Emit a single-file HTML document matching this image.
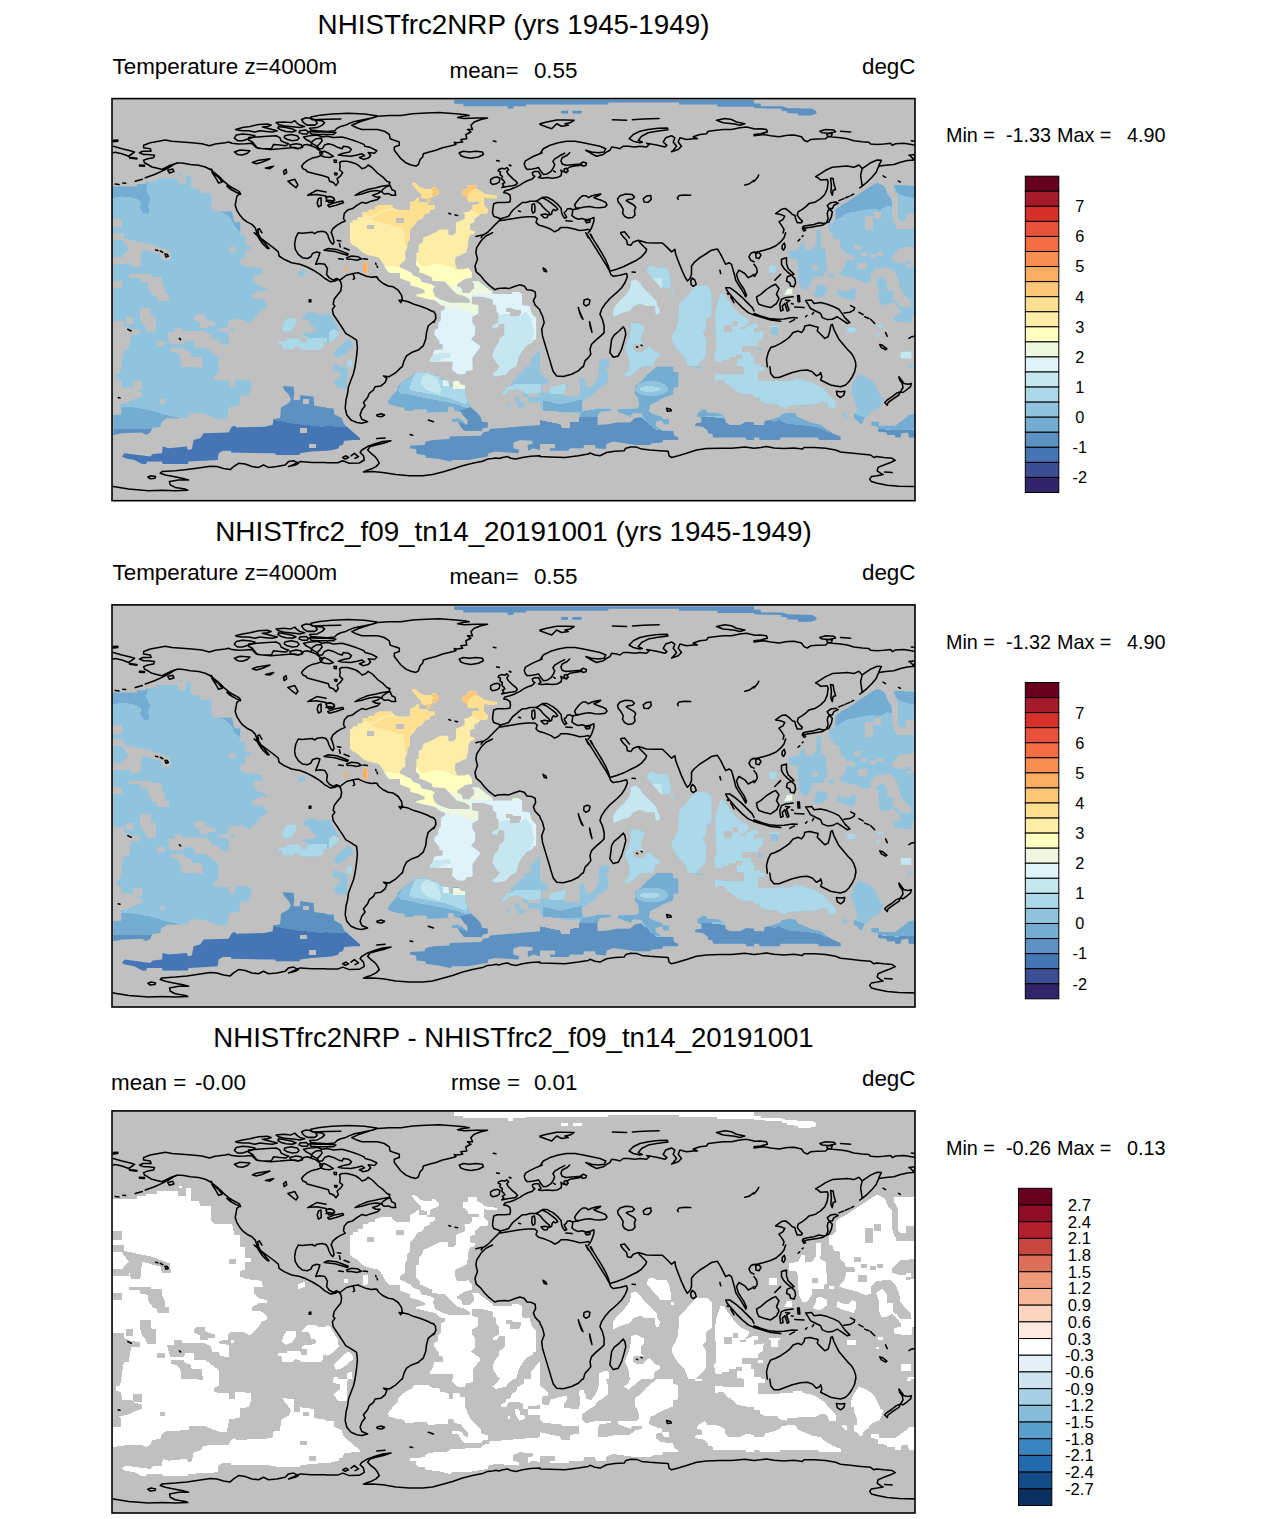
<!DOCTYPE html>
<html><head><meta charset="utf-8"><title>NHISTfrc2NRP Temperature z=4000m</title>
<style>html,body{margin:0;padding:0;background:#fff}svg{display:block}text{font-family:"Liberation Sans",sans-serif;fill:#000}</style></head><body>
<svg width="1285" height="1519" viewBox="0 0 1285 1519">
<rect width="1285" height="1519" fill="#fff"/>
<defs><clipPath id="frame"><rect x="112" y="98.6" width="803" height="402.1"/></clipPath><clipPath id="mask" clip-rule="nonzero"><path d="M112,186.5 137,186.5 137,184 146.1,184 146.1,181.5 157,181.5 157,178.6 177.8,178.6 177.8,183.6 186.1,183.6 186.1,175.6 191.1,175.6 191.1,188.6 198.6,188.6 200.3,193.3 211.4,193.3 211.4,208.6 213.9,211.4 231.9,211.4 234.4,222.3 240.2,222.3 240.2,232.8 112,232.8ZM179.4,173.6 181.9,173.6 181.9,176.1 179.4,176.1ZM454.2,100 540,100 540,104.5 525.8,104.5 525.8,106.2 513.3,106.2 513.3,108.4 507.5,108.4 507.5,106.2 463.4,106.2 463.4,103.7 454.2,103.7ZM540,100 754,100 754,106.7 717.4,106.7 717.4,104.5 679.1,104.5 679.1,102.4 608.3,102.4 608.3,104.5 540,104.5ZM561.3,110.7 568,110.7 568,113.4 561.3,113.4ZM572.5,110.7 581.6,110.7 581.6,113.4 572.5,113.4ZM754,103.4 760.7,103.4 760.7,106.2 782.3,106.2 787.3,107.9 812.3,108.7 816.4,111.2 816.4,113.7 810.6,115.4 798.1,115.4 798.1,113.4 787.3,112.9 787.3,111.2 781.5,110.4 781.5,108.7 754,107.9ZM350,222.5 352.5,222.5 352.5,220 357.5,220 357.5,216.9 362.5,216.9 362.5,211.9 367.4,211.9 369.9,209.4 374.9,209.4 374.9,206.9 379.9,205.1 392.3,205.1 392.3,206.9 394.8,208.8 399.8,210.1 409.8,210.1 409.8,202.6 414.8,200.7 416.6,198.2 419.1,198.2 419.1,202.6 427.2,202.6 427.2,205.1 434.7,205.1 434.7,208.8 429.7,210.1 429.7,212.6 424.7,214.4 422.2,218.8 417.2,220.6 414.8,225 409.8,230 409.8,239.9 407.3,242.4 407.3,247.4 404.8,252.4 404.8,259.9 399.8,264.9 399.8,267.3 404.8,269.2 408.5,272.7 389.9,272.7 387.4,271.1 384.9,267.3 382.4,262.4 378.6,257.4 367.4,254.9 362.5,252.4 357.5,247.4 352.5,244.9 350,242.4ZM363.1,262.4 367.4,262.4 367.4,272.7 363.1,272.7ZM412.3,182.7 414.8,182.7 419.7,187 424.7,188.9 432.2,188.9 432.2,187 435.3,187 439,191.4 439,193.2 435.9,195.7 432.2,196.4 429.7,198.9 429.7,202.6 427.2,202.6 427.2,198.9 421,197.6 421,193.9 417.9,191.4 414.8,187.6 412.3,184.5ZM462.7,189.5 467.7,189.5 467.7,185.2 477,185.2 477,188.9 482,191.4 484.5,193.9 496.9,195.7 496.9,198.2 487,198.2 484.5,196.4 483.9,200.7 483.9,205.1 487.6,208.8 487.6,213.2 480.8,213.8 478.3,216.3 474.5,218.8 474.5,222.5 470.2,223.8 470.2,230 474.5,231.2 474.5,233.7 470.2,235 468.3,239.9 468.3,243.7 466.4,252.4 459.6,254.9 455.2,257.4 455.2,268.6 459.6,269.8 465.8,268.6 469.6,272.7 419.7,272.7 419.7,268.6 416,264.9 416,261.1 418.5,259.9 418.5,244.9 422.2,242.4 423.5,237.5 429.7,235 437.2,231.2 439.7,229.4 448.4,229.4 448.4,235 453.4,235 455.9,232.5 455.9,222.5 462.1,220 464.6,218.8 464.6,213.8 462.7,212.6 469.6,211.3 472,208.8 472,205.1 478.9,204.5 478.9,201.3 468.3,202 467.1,197.6 462.7,195.1ZM816.4,230.3 820.9,230.3 820.9,232.9 816.4,232.9ZM816.4,231.9 821.1,231.9 821.1,243.5 816.4,243.5ZM829.3,232.8 829.3,222.8 832.3,222.8 835.6,219.4 835.6,209.4 838.9,206.9 842.3,204.4 847.3,201.9 852.3,198.6 857.2,195.3 862.2,192 867.2,188.6 872.2,185.3 877.2,182.8 915,182.8 915,232.8ZM113.3,232.7 240.2,232.7 240.2,235.2 245.2,235.2 245.2,245.2 251.1,246 251.1,249.4 245.2,249.4 245.2,257.7 240.2,258.5 240.2,264.3 246.9,266.8 261.9,268.5 262.7,274.3 253.5,275.2 253.5,280.2 258.5,286 266.9,287.7 266.9,290.2 258.5,291 251.9,295.1 251.9,298.5 262.7,299.3 266.9,304.3 266.9,307.6 261.9,309.3 258.5,314.3 253.5,319.3 250.2,323.5 241.9,319.3 230.2,319.3 227.7,323.5 227.7,327.6 218.6,328.5 218.6,331 228.6,332.6 228.6,345.1 220.2,343.4 218.6,339.3 211.9,339.3 211.1,334.3 204.4,331 181.9,331 181.9,328 174.4,328 174.4,332.6 167,332.6 168.6,339.3 170.3,344.3 183.6,344.3 185.3,340.9 193.6,340.9 194.4,347.6 205.3,347.6 211.9,352.6 218.6,357.6 218.6,366.8 113.3,366.8ZM231.1,327.6 234.4,327.6 234.4,331 231.1,331ZM283.5,323.5 286.9,318.5 296,318.5 296,324.3 291.9,330.1 286,332.6 281.9,329.3ZM297.7,271.8 305.2,269.7 305.2,274.3 298.5,276.8ZM302.4,317.6 307.4,312.6 313.3,312.3 318.3,314.3 328.2,314.3 331.6,316.8 334.9,322.6 338.2,327.6 338.2,332.6 334.9,336.8 329.9,340.9 323.2,342.6 323.2,347.6 319.9,350.1 301.6,350.1 299.9,347.6 294.9,346.8 293.3,349.3 282.4,349.3 281.6,344.3 278.3,343.4 278.3,340.9 286.6,340.9 286.6,338.4 299.9,338.4 301.6,342.6 306.6,342.6 306.6,336.8 302.4,336.8 302.4,333.4 310.8,332.6 315.8,331 315.8,327.6 310.8,326 309.1,320.1 302.4,319.3ZM334.9,364.3 338.2,364.3 338.2,366.8 334.9,366.8ZM326,312.6 330.2,314.3 332.7,321 334.3,326 338.5,332.6 338.5,335.1 334.3,339.3 329.3,342.6 326,343.4ZM333.5,352.6 338.5,347.6 342.7,343.4 346.8,340.1 349.3,339.3 352.6,343.4 353.5,347.6 349.3,349.3 346.8,352.6 341.8,355.9 336,357.6ZM346.8,360.9 351.8,359.3 352.6,366.8 347.6,366.8ZM333.5,364.3 336,364.3 336,366.8 333.5,366.8ZM344.3,266.8 347.6,266.8 347.6,270.2 344.3,270.2ZM363,262.7 367.6,262.7 367.6,271.8 363,271.8ZM416.3,252.7 465.4,252.7 458.8,256 455,257.1 455,263.6 457.2,269 465.4,269 468.1,267.4 471.9,272.3 471.9,277.8 465.4,278.8 461,281.6 457.2,284.3 457.2,286.5 461,287.6 463.2,293 469.7,293 471.9,289.7 474.1,288.6 474.1,284.3 471.9,281 478.4,281 483.9,285.4 492.6,291.9 492.6,294.1 512.2,294.1 512.2,291.9 518.7,291.9 522,294.1 522,305 529.6,306.1 531.8,313.7 536.2,318.1 536.2,339.7 504.6,339.7 504.6,324.1 499.1,323.5 496.9,327.9 492.6,327.9 492.6,325.7 498.6,322.4 498.6,313.7 496.4,311.5 496.4,306.1 492.6,303.9 492.6,299.5 482.8,296.8 471.9,296.8 471.9,303.9 478.4,305 478.4,313.7 472.4,317 472.4,322.4 475.2,326.8 475.2,334.4 470.8,339.7 438.1,339.7 434.3,334.4 434.3,331.1 438.1,327.9 438.1,323.5 440.8,320.2 440.8,311.5 444.7,309.3 444.7,306.1 440.3,305 434.9,300.6 429.4,299.5 416.3,296.3 416.3,294.6 424.5,293 424.5,290.3 418.5,287.6 410.3,285.4 410.3,282.1 401.1,278.8 400,277.8 400,267.4 403.3,269 410.9,272.3 413.1,275.6 419.6,277.8 421.8,282.1 431.6,284.3 434.9,286.5 432.7,289.7 434.9,296.3 440.3,299.5 450.1,302.8 469.7,302.8 469.7,299.5 464.3,296.3 456.6,294.1 452.3,289.7 444.7,281.6 432.7,281 431.6,277.2 422.3,272.9 420.2,266.9 416.3,264.7ZM400,252.7 405.4,252.7 405.4,260.3 400,263.6ZM435.9,329.3 472.5,331 470.9,339.3 480,345.9 480,347.6 472.5,357.6 472.5,366.8 452.6,366.8 452.6,361.8 430.1,361.8 430.1,359.3 432.6,355.9 434.2,350.1 442.6,349.3 442.6,344.3 439.2,343.4 439.2,337.6 434.2,333.4ZM505,329.3 535.8,331 532.5,342.6 525.8,345.9 519.2,355.9 515.8,366.8 500.9,366.8 497.5,364.3 492.5,355.9 494.2,349.3 499.2,342.6 499.2,339.3 505,334.3ZM530.8,359.3 540,349.3 540,366.8 530.8,366.8ZM648.2,266.8 651.6,265.2 656.6,267.7 666.6,267.7 669.1,272.7 670.7,281 670.7,287.7 660.7,287.7 656.6,282.7 653.2,279.3 649.1,274.3 646.6,271.8ZM671.1,289.8 673.6,289.8 673.6,292.3 671.1,292.3ZM630.8,281 635.8,279.3 639.9,282.7 643.2,287.7 649.9,294.3 656.6,301 657.4,306 659.9,309.3 659.1,314.3 655.7,314.3 654.9,306 646.6,306 639.9,303.5 633.3,306 629.9,311 623.3,312.6 613.3,316.8 613.3,309.3 616.6,304.3 621.6,299.3 624.9,296 629.9,289.3 630.8,284.3ZM630.8,323.5 636.6,322.6 644.1,326 644.1,331 641.6,333.4 640.7,340.9 644.1,343.4 646.6,347.6 649.9,345.9 654.9,351.8 659.9,353.4 659.9,356.8 654.9,359.3 653.2,366.8 629.9,366.8 628.3,355.9 624.9,349.3 627.4,342.6 629.9,335.9 630.8,329.3ZM599.1,360.9 603.3,358.9 609.1,359.3 609.1,366.8 599.1,366.8ZM696.5,286 706.5,285.2 711.5,290.2 711.5,316 706.5,319.3 705.7,329.3 702.4,332.6 706.5,339.3 705.7,355.9 701.5,360.9 695.7,366.8 688.2,366.8 684.9,357.6 679.9,352.6 674.9,345.9 671.6,339.3 671.6,335.9 674.9,331 678.2,322.6 679.1,304.3 684.9,298.5 690.7,291ZM720.7,293.5 724,294.3 729.8,302.6 736.5,311 742.3,316 749,319.3 748.2,323.5 742.3,328.5 754,323.5 754,366.8 716.5,366.8 714,352.6 716.5,349.3 714.9,316 716.5,306ZM743.9,365.1 758.2,365.1 758.2,381.2 743.9,381.2ZM789,251 798.1,249.4 801.5,242.7 804.8,242.7 804.8,249.4 812.3,249.4 815.6,244.4 819.8,242.7 820.6,246.9 825.6,249.4 827.3,271 823.9,272.7 823.9,276.8 812.3,276.8 811.5,282.7 807.3,289.3 802.3,289.3 799,282.7 798.1,272.7 797.3,259.3 789,258.5ZM832.3,232.7 833.9,238.5 839.8,239.4 840.6,247.7 844.8,251 845.6,254.3 853.9,255.2 855.6,260.2 846.4,259.3 844.8,266.8 840.6,271.8 838.9,274.3 847.3,276.8 857.2,279.3 864.7,282.7 876.4,281 878.9,289.3 878.9,298.5 881.4,305.1 887.2,304.3 892.2,301.8 897.2,306 900.5,311 900.5,314.3 893.9,316 893.9,321 903.9,322.6 911.4,322.6 912.2,315.1 915,314.3 915,232.7ZM828.9,273.5 833.9,273.5 833.9,276.8 828.9,276.8ZM815.6,286 819.8,284.3 827.3,287.7 827.3,292.7 822.3,296.8 818.9,297.6 813.1,296 815.6,291ZM838.1,287.7 840.6,291 848.9,291.8 852.3,287.7 855.6,289.3 855.6,296 853.9,301 848.9,299.3 840.6,296.8 836.4,294.3ZM787.3,288.5 792.3,288.5 792.3,294.3 784,295.1ZM769,265.2 776.5,265.2 776.5,272.7 769,272.7ZM847.3,327.6 855.6,327.6 855.6,332.6 847.3,332.6ZM878.1,325.1 883.1,325.1 883.1,327.6 878.1,327.6ZM876.4,334.3 878.9,334.3 878.9,336.8 876.4,336.8ZM900.5,351.8 911.4,351.8 911.4,358.4 900.5,358.4ZM754,323.5 758.2,323.5 758.2,328.5 754,328.5ZM769,326 779.8,326 779,333.4 770.7,334.3ZM754,332.6 764,331 764,337.6 759,340.9 760.7,345.9 754,347.6ZM757.3,347.6 762.3,347.6 762.3,350.1 757.3,350.1ZM754,364.3 760.7,364.3 760.7,366.8 754,366.8ZM908,365.1 915,365.1 915,366.8 908,366.8ZM122,366.7 218.6,366.7 218.6,373.4 213.6,375.9 213.6,380 229.4,380.9 229.4,386.7 235.2,386.7 235.2,379.2 251.1,380.9 251.1,388.3 248.6,395 240.2,395.8 239.4,405.8 229.4,406.7 226.9,419.2 218.6,419.2 211.9,416.7 203.6,413.3 189.4,413.3 188.6,417.5 178.6,418.3 167,418.3 161.1,422.5 160.3,426.7 152.8,427.5 150.3,432.5 146.1,435 142,432.5 122,433.3 113.3,435 113.3,415 121.2,414.2 121.2,406.7 119.5,404.2 130.3,401.7 133.6,399.2 142,396.7 142,392.5 133.6,390 131.2,387.5 122,387.5 121.2,380 116.2,378.4 116.2,374.2 119.5,373.4ZM122,456.6 124.5,453.3 150.3,456.6 152.8,454.1 162,453.3 162.8,446.6 168.6,448.3 186.9,446.6 187.8,450 191.9,449.1 193.6,440 200.3,438.3 203.6,433.3 228.6,432.5 231.9,426.7 235.2,425.8 236.1,427.5 264.4,426.7 272.7,425 273.5,419.2 280.2,418.3 281,407.5 288.5,403.3 291,399.2 288.5,394.2 284.4,390 282.7,385.9 293.5,386.7 294.3,392.5 293.5,400 300.2,400 300.2,395 313.5,396.7 314.3,405.8 326,407.5 326,450.8 311,451.6 300.2,453.3 299.3,455 276,455 275.2,453.3 231.1,452.5 231.1,450.8 222.7,450.8 218.6,453.3 217.7,460 188.6,461.6 187.8,464.1 162.8,464.1 162,461.6 147,461.6 146.1,464.1 142,464.1 134.5,460 125.3,458.3ZM326,408.3 333.5,408.3 334.3,414.2 341.8,418.3 343.5,423.3 348.5,428.3 353.5,432.5 360.1,438.3 360.1,440 353.5,440 344.3,440.8 342.7,445 339.3,445.8 338.5,448.3 332.7,450 326,450.8ZM332.7,366.7 347.6,366.7 346.8,388.3 337.7,388.3 333.5,381.7 340.2,376.7 340.2,371.7 332.7,370.9ZM414.3,372.5 429.2,372.5 430.1,375 439.2,375.9 440.1,379.2 448.4,380.9 449.2,386.7 452.6,386.7 453.4,380.9 459.2,380.9 460.1,384.2 465.1,385 465.1,394.2 467.5,400.8 470.9,407.5 476.7,412.5 480.9,417.5 481.7,421.7 487.5,422.5 487.5,427.5 482.5,428.3 481.7,430.8 464.2,430.8 460.9,426.7 457.6,421.7 451.7,421.7 451.7,419.2 457.6,418.3 461.7,420 464.2,423.3 467.5,425 467.5,420 463.4,415.8 460.9,411.7 454.2,410.8 453.4,406.7 448.4,406.7 447.6,411.7 427.6,412.5 426.7,409.2 414.3,409.2 413.4,410.8 405.1,410.8 404.3,407.5 397.6,406.7 389.3,404.2 387.6,401.7 392.6,395 397.6,390 397.6,386.7 402.6,381.7 407.6,378.4 412.6,375.9ZM410.1,445.8 424.3,445 425.9,441.6 434.2,440 449.2,439.1 450.1,436.6 480.9,435.8 483.4,432.5 488.4,431.6 490,429.1 540,425 540,450 533.3,448.3 528.3,450.8 527.5,445 532.5,444.1 532.5,440.8 520,440 513.3,442.5 513.3,448.3 519.2,450 518.3,453.3 508.3,452.5 495,451.6 488.4,453.3 487.5,456.6 481.7,457.5 467.5,460 452.6,460 450.1,461.6 439.2,459.1 425.9,457.5 425.1,455 416.8,454.1 415.9,449.1 410.1,448.3ZM492.5,374.2 497.5,370 499.2,366.7 514.2,366.7 509.2,370 505.9,374.2 495.9,376.7ZM524.2,366.7 540,366.7 540,392.5 536.7,393.3 528.3,394.2 527.5,396.7 523.3,396.7 523.3,391.7 518.3,389.2 509.2,390 505.9,394.2 500.9,394.2 500.9,392.5 505.9,390 505.9,386.7 510.8,385.9 511.7,381.7 515.8,379.2 517.5,375 524.2,370.9ZM528.3,396.7 540,396.7 540,402.5 528.3,402.5ZM515,396.7 519.2,396.7 520,402.5 525,403.3 525,406.7 519.2,408.3 515,400.8ZM507.5,403.3 510,403.3 510,406.7 507.5,406.7ZM451.7,366.7 472.5,366.7 472.5,370 465.9,370.9 465.1,374.2 457.6,374.2 452.6,370ZM540,373.4 548.3,380 548.3,383.4 542.5,384.2 541.7,391.7 549.2,393.3 550,387.5 565,383.4 567.5,384.2 566.6,387.5 564.1,391.7 564.1,395.8 579.1,396.7 580,390.8 579.1,378.4 583.3,377.5 585.8,383.4 585.8,386.7 591.6,387.5 595,382.5 598.3,376.7 599.1,366.7 605.8,366.7 608.3,373.4 608.3,381.7 603.3,385.9 597.5,389.2 595,393.3 588.3,397.5 582.5,401.7 581.6,406.7 585.8,410.8 599.1,408.3 610.8,408.3 610.8,410.8 600,411.7 597.5,416.7 597.5,425 608.3,424.2 616.6,422.5 629.9,422.5 634.9,418.3 641.6,416.7 641.6,413.3 632.4,413.3 630.8,416.7 626.6,415 617.4,411.7 618.3,409.2 636.6,408.3 639.1,405.8 638.3,398.3 634.9,394.2 634.9,385.9 639.9,382.5 646.6,375 654.9,368.4 656.6,366.7 673.2,366.7 673.2,371.7 678.2,372.5 678.2,386.7 673.2,388.3 673.2,394.2 664.1,397.5 656.6,401.7 649.9,405 649.1,411.7 656.6,415 662.4,416.7 662.4,419.2 669.1,419.2 669.1,424.2 664.1,424.2 661.6,420 655.7,421.7 655.7,425.8 661.6,430 673.2,430.8 674.1,435.8 678.2,437.5 678.2,440 663.2,440 662.4,442.5 651.6,443.3 649.9,445 636.6,445 613.3,441.6 606.6,444.1 605.8,449.1 595.8,448.3 595,445 584.1,445 583.3,448.3 570,448.3 568.3,450.8 550,450.8 550,448.3 555,448.3 555,444.1 540,444.1ZM624.1,374.2 628.3,370.9 629.9,366.7 641.6,366.7 637.4,370 632.4,374.2 628.3,377.5ZM697.4,413.3 704.9,408.3 707.4,412.5 718.2,413.3 724.8,416.7 725.7,422.5 729.8,425 739.8,425 746.5,421.7 754,422.5 754,440 746.5,440 745.7,437.5 713.2,437.5 712.4,434.1 708.2,433.3 707.4,430 702.4,426.7 694.9,425.8 695.7,423.3 701.5,422.5 701.5,417.5 697.4,416.7ZM714.9,373.4 724.8,374.4 743.8,374.4 743.8,365.9 754,365.9 754,395 746.5,394.2 737.3,392.5 733.2,388.3 727.3,385 723.2,380.9 714.9,380.9ZM694.9,366.7 702.4,366.7 702.4,368.4 694.9,368.4ZM754,380.9 792.3,380.9 794,378.4 802.3,379.2 804,380.9 812.3,382.5 818.9,385.9 823.9,389.2 827.3,393.3 832.3,398.3 835.6,402.5 835.6,408.3 828.9,408.3 827.3,402.5 821.4,401.7 815.6,404.2 787.3,405.8 786.5,408.3 779,406.7 778.1,404.2 764,403.3 759.8,400.8 759.8,397.5 754,397.5ZM754,366.7 764.8,366.7 764.8,370.9 758.2,371.7 758.2,380.9 754,380.9ZM754,425 764,425 764.8,420.8 770.7,420 779.8,416.7 781.5,414.2 789,412.5 795.6,413.3 797.3,416.7 804,420 812.3,423.3 820.6,425 825.6,429.1 832.3,433.3 840.6,436.6 840.6,440 818.9,440 818.1,437.5 780.6,437.5 779.8,440 759.8,440 759,437.5 754,437.5ZM853.9,381.7 858.9,374.2 867.2,377.5 873.9,382.5 878.1,390.8 880.6,396.7 883.1,397.5 882.2,402.5 878.9,408.3 872.2,410.8 868.1,415.8 863.1,420 862.2,424.2 858.9,423.3 858.1,420.8 853.9,418.3 853.9,413.3 857.2,412.5 856.4,405 853.9,399.2 853.9,395 851.4,394.2 851.4,387.5ZM842.3,412.5 844.8,412.5 847.3,415 847.3,417.5 844.8,417.5 842.3,415ZM871.4,421.7 878.9,421.7 878.9,425.8 895.5,425.8 900.5,421.7 905.5,418.3 908.9,415 915,414.2 915,437.5 908.9,437.5 908,432.5 901.4,433.3 900.5,437.5 895.5,437.5 894.7,435 887.2,435 886.4,432.5 878.1,431.6 878.1,426.7 871.4,425.8ZM907.2,366.7 910.5,366.7 910.5,368.4 907.2,368.4Z"/></clipPath><path id="coast" d="M145.3,177.8 154.5,174.5 162.0,171.1 168.6,167.8 173.6,164.5 177.8,162.8 170.3,165.3 162.0,169.5 158.6,168.6 152.0,167.0 147.8,164.5 144.5,162.8 143.6,160.3 147.8,158.7 153.6,157.8 154.5,155.3 147.8,154.5 143.6,154.5 139.5,152.8 142.8,151.2 151.1,151.2 150.3,148.7 143.6,147.8 143.6,145.3 150.3,142.8 158.6,141.2 165.3,140.0 172.0,141.2 181.9,142.0 191.9,142.8 201.9,143.7 209.4,145.7 215.2,144.0 225.2,142.8 228.6,142.0 231.9,143.3 238.6,144.0 245.2,143.7M177.8,162.8 183.6,163.3 190.3,164.5 198.6,165.3 205.3,167.0 210.3,169.5 213.6,172.0 218.6,176.1 223.6,181.1 228.6,185.3 233.6,188.6 238.6,191.1 240.2,193.6 236.9,196.1 236.1,200.3 235.2,205.3 236.9,210.3 239.4,214.4 242.7,218.6 246.9,221.9 251.9,224.4 255.2,227.8 256.9,232.8M261.9,232.8 259.4,228.6 257.7,229.4 258.5,232.8M115.3,184.1 119.0,184.6M122.8,183.0 125.7,183.3M135.3,181.3 142.3,179.3M113.3,140.3 117.8,140.0 117.8,141.3 113.3,141.7ZM113.3,146.2 122.0,148.7 130.3,150.7 134.5,152.0 128.7,156.2 122.0,153.7 115.3,152.3 113.3,152.8M129.5,157.3 137.0,158.3 136.6,159.0 129.5,158.0ZM139.5,165.0 144.5,165.3 144.5,166.3 139.5,166.0ZM167.8,170.3 172.8,169.0 173.9,171.6 169.5,173.0ZM211.1,169.0 214.4,174.0 218.6,177.3 222.2,182.0 218.6,183.0 216.1,178.6 211.9,172.0M226.9,186.1 233.6,188.3 239.4,191.6 240.6,194.3 236.1,192.3 230.2,189.0ZM326.0,192.0 316.8,190.3 307.7,195.3 316.8,194.5 326.0,196.1M318.5,198.6 321.0,197.8 321.2,205.3 318.5,206.9 317.2,202.8ZM351.8,125.3 359.3,122.0 369.3,118.7 377.6,116.2 389.3,115.4 400.9,115.4 412.6,113.7 425.9,112.9 439.2,112.5 452.6,113.4 464.2,114.5 469.2,115.4 462.6,116.2 457.6,117.4 464.2,118.4 475.9,117.9 487.5,117.9 480.9,119.5 474.2,122.0 470.9,125.3 472.5,129.5 467.5,129.5 470.9,132.0 465.9,134.5 466.7,138.7 460.9,139.5 462.6,142.0 456.7,142.8 454.2,142.3 455.9,144.5 449.2,146.2 442.6,147.8 435.9,150.3 429.2,152.0 423.4,153.7 422.6,157.0 420.1,159.5 418.4,164.5 415.9,166.1 410.9,165.0 405.9,162.8 400.9,158.7 397.6,154.5 394.3,150.3 394.3,147.0 399.3,145.3 399.3,142.0 394.3,140.3 390.1,138.7 389.3,134.5 384.3,131.2 377.6,129.5 369.3,129.5 361.8,129.5 356.8,127.8ZM389.3,182.0 389.3,185.3 382.6,186.1 376.0,187.8 367.6,189.5 359.3,192.8 355.1,195.3 361.8,194.0 369.3,191.6 376.0,190.6 381.0,191.3 377.6,193.6 372.6,195.3 376.0,197.0 380.1,197.0 377.6,199.4 370.1,201.6 366.0,203.3 361.8,202.3 356.8,205.3 352.6,208.6 347.6,209.9 344.3,213.6 343.5,218.6 345.2,221.1 341.0,222.8 336.8,225.3 332.7,228.9 331.0,232.8M382.6,189.5 386.0,187.0 390.1,185.3 391.8,189.5 395.1,191.1 395.6,195.3 391.8,195.3 388.4,193.6 384.3,194.0 381.8,192.0ZM326.0,197.0 331.0,196.6 334.3,198.6 333.5,201.1 329.3,200.3 326.0,201.1M327.7,205.3 334.3,202.8 342.7,201.1 343.5,202.8 336.0,205.3 329.3,206.9ZM459.2,152.8 463.4,151.2 469.2,152.0 475.9,151.2 482.5,152.0 483.4,154.5 478.4,157.0 470.9,158.3 465.1,157.3 460.9,155.7ZM493.4,141.0 495.9,141.5M496.7,160.6 499.2,161.1M509.2,165.1 510.5,165.8M448.9,213.3 450.6,213.9M455.1,214.9 457.6,215.4M629.1,138.7 633.3,134.5 639.9,131.2 648.2,129.5 658.2,128.3 667.4,128.0 667.9,129.7 656.6,131.2 648.2,132.8 641.6,136.2 638.3,140.3 642.4,142.3 639.9,142.8 633.3,141.2ZM540.0,153.7 543.3,148.7 550.0,145.3 558.3,142.8 566.6,141.2 575.0,141.2 583.3,142.8 591.6,144.5 600.0,146.2 605.8,148.7 604.1,152.0 598.3,152.8 591.6,152.0 585.8,150.3 591.6,153.7 596.6,156.2 603.3,154.5 606.6,152.0 609.9,150.3 611.6,147.0 616.6,147.8 619.9,148.7 623.3,146.2 628.3,146.2 634.9,147.0 639.9,146.2 646.6,147.0 649.1,144.5 646.6,143.3 656.6,145.0 664.9,147.0 666.9,145.3 663.2,142.0 665.7,137.8 671.6,135.7 674.9,137.8 673.2,142.0 676.6,146.2 673.2,150.3 671.6,151.7 678.2,149.5 681.5,146.2 678.2,142.0 679.9,137.8 686.5,139.5 693.2,138.7 697.4,138.7 693.2,136.7 699.9,134.5 706.5,133.7 708.2,131.2 716.5,130.3 723.2,129.5 731.5,129.5 739.8,127.8 746.5,127.0 754.0,128.7M716.5,120.3 724.8,118.4 731.5,119.5 736.5,122.0 744.8,123.7 739.8,125.3 734.8,124.0 723.2,122.8ZM540.0,123.7 546.7,122.0 556.7,120.0 565.0,120.0 574.1,120.3 570.0,122.8 565.0,123.7 568.3,125.3 561.6,126.2 556.7,123.7 551.7,128.7 546.7,127.0 540.0,124.5M612.4,119.8 626.6,120.2M632.4,119.7 643.2,119.0 659.1,118.5M643.2,198.6 646.6,196.1 650.7,195.6 651.2,199.4 648.2,202.3 644.1,201.9ZM678.2,199.4 677.4,197.8 679.1,195.6 684.9,195.0 690.7,195.3M744.8,185.0 749.0,184.0 754.0,180.3M754.0,129.0 760.7,128.7 766.5,129.5 767.3,132.0 760.7,133.7 754.0,134.5M754.0,135.7 764.0,134.5 770.7,135.7 779.0,136.7 787.3,135.3 794.0,135.0 801.5,136.7 804.0,140.3 807.3,141.7 810.6,139.5 817.3,139.0 825.6,138.7 828.1,136.2 832.3,137.0 840.6,137.8 847.3,138.7 853.9,140.7 862.2,141.7 868.9,142.3 870.6,144.0 877.2,144.5 883.9,144.0 890.6,143.3 892.2,145.3 895.5,143.7 903.9,143.3 911.4,144.5 915.0,145.3M819.8,131.2 825.6,129.5 833.9,130.0 835.6,131.7 828.9,133.3 822.3,132.8ZM840.6,131.2 850.6,132.0M826.4,133.7 832.3,133.3 831.4,136.2 828.1,136.7ZM911.4,140.7 915.0,141.3M908.9,155.3 915.0,154.5M910.5,156.2 913.9,159.5 915.0,155.7M915.0,160.0 907.2,160.6 900.5,162.3 893.9,164.5 885.6,165.3 878.9,166.1 877.2,169.5 876.4,172.0 872.2,177.0 867.2,182.0 862.2,186.1 859.7,187.8 862.2,186.1 860.6,175.3 862.2,168.6 870.6,162.8 877.2,160.0 881.4,160.3 878.9,165.3M862.2,168.6 858.9,165.0 853.9,167.3 847.3,166.1 840.6,166.6 832.3,167.3 825.6,170.3 820.6,173.6 815.6,176.6 818.1,177.8 820.6,180.0 827.3,179.5 828.1,182.0 827.3,188.6 824.8,194.5 820.6,198.6 815.6,201.9 809.0,203.6 805.6,206.9 802.3,209.4 798.1,211.9 797.3,215.3 799.8,218.6 802.3,221.1 801.5,222.8 797.3,222.8 795.6,218.6 794.8,215.3 792.3,214.4 789.8,211.9 785.6,208.6 782.3,208.9 779.0,211.1 775.6,213.6 780.6,214.4 784.8,216.1 783.1,219.4 779.0,221.9 781.5,225.3 784.0,229.4 783.1,232.8M830.6,178.3 833.1,178.6 833.9,183.6 835.6,189.5 833.1,190.3 832.3,195.3 830.9,192.0 831.4,185.3ZM827.3,205.3 830.6,202.8 835.6,201.9 838.1,203.3 833.9,205.3 832.3,208.6 828.9,208.6ZM829.8,209.4 832.3,211.9 831.4,216.9 828.9,221.9 823.9,223.6 818.9,222.8 814.0,224.4 809.0,225.3 804.0,226.1 803.1,228.6 807.3,227.8 812.3,226.9 817.3,226.1 822.3,225.3 826.4,222.8 828.1,218.6 827.3,213.6 828.1,210.3ZM803.1,226.6 805.6,230.3 804.0,231.1 802.3,228.6ZM838.9,200.6 843.9,198.6M845.6,197.8 849.8,196.1M851.4,195.3 853.6,194.1M883.1,175.8 885.6,177.3M898.5,181.1 900.2,182.0M754.0,181.6 757.3,177.8 758.7,175.0M254.1,232.7 260.0,237.7 266.6,242.7 273.3,247.7 278.3,251.9 279.1,256.0 284.1,259.3 291.6,262.7 299.9,264.3 306.6,266.8 313.3,270.2 319.9,274.3 324.9,278.5 330.7,281.8 334.9,281.0 338.2,279.3 340.7,281.8 341.6,286.0 340.7,291.0 336.6,296.0 334.1,299.3 333.2,304.3 334.9,306.0 332.4,309.3 333.2,314.3 336.6,319.3 339.9,324.3 343.2,329.3 345.7,333.4 351.6,336.8 356.6,340.1 357.4,347.6 356.6,355.9 355.7,362.6 354.9,366.8M257.5,232.7 260.8,238.5 265.0,243.5 269.1,248.5 267.5,248.5 262.5,243.5 259.1,238.5 256.3,233.5M298.3,232.7 295.8,237.7 294.6,244.4 295.3,249.4 298.3,254.3 302.4,257.7 307.4,258.5 310.8,256.8 312.4,253.5 316.6,251.9 319.9,252.7 318.3,257.7 316.6,261.8 315.8,264.3 319.9,263.5 324.9,264.3 327.4,268.5 326.6,274.3 329.1,277.7 333.2,280.2 336.6,278.5 339.9,280.2 343.2,277.7 346.6,275.2 353.2,273.5 358.2,272.7 361.5,274.3 366.5,276.3 371.5,277.3 376.5,276.8 379.0,280.2 383.2,283.5 388.2,286.0 393.2,286.8 398.2,290.2 401.5,295.1 402.3,299.3 399.9,301.0 403.2,300.6 408.2,301.8 414.0,304.3 419.8,306.0 426.5,308.5 431.5,311.0 434.0,311.8M324.1,250.2 328.2,248.5 336.6,249.4 343.2,251.9 348.2,254.0 347.4,255.2 341.6,253.5 334.9,251.4 328.2,250.7ZM346.6,257.7 351.6,256.0 358.2,256.8 361.5,259.0 356.6,260.2 351.6,259.3 347.4,259.3ZM338.6,258.7 343.2,259.3M363.2,258.7 367.4,259.3M337.4,240.4 340.7,241.0M339.4,243.5 340.2,246.9M344.1,248.0 349.1,250.0M375.7,263.2 376.0,264.3M377.0,266.0 377.5,267.3M373.2,276.7 377.4,277.3M353.2,274.0 354.6,278.5 353.2,279.3M309.1,300.1 310.8,299.8 310.9,301.8 309.3,302.0ZM434.0,321.0 428.2,326.0 426.5,332.6 425.7,339.3 423.2,345.9 418.2,350.1 411.5,352.6 406.5,355.9 404.0,360.9 402.3,366.8M399.0,300.1 400.7,302.6 402.3,299.6M492.5,232.7 485.9,236.0 480.9,241.0 476.7,247.7 475.9,252.7 477.5,259.3 475.0,266.0 475.9,271.0M475.9,236.4 478.9,235.7M480.0,235.5 482.5,235.0M475.2,266.9 476.3,271.8 480.6,275.6 484.4,280.5 489.3,285.4 494.8,289.7 498.0,288.6 504.6,288.1 508.9,288.6 514.4,286.5 519.8,284.8 524.2,285.9 526.9,289.7 531.8,290.3 535.1,291.9 535.6,296.3 533.4,300.6 535.1,305.0 538.3,308.3 540.0,309.9M432.7,311.0 435.4,313.7 435.9,318.1 433.8,322.4M585.8,232.7 589.1,237.7 593.3,244.4 597.5,251.0 601.6,257.7 605.8,264.3 609.1,270.2 610.8,274.3 613.3,276.3 619.9,275.2 626.6,273.5 627.4,276.8 624.9,282.7 621.6,287.7 616.6,292.7 609.9,298.5 604.9,304.3 601.6,309.3 600.0,314.3 602.4,319.3 604.1,326.0 604.1,332.6 600.8,335.9 595.8,340.1 591.6,344.3 590.0,349.3 590.8,354.3 588.3,357.6 585.0,360.9 583.3,366.8M590.8,234.4 593.3,239.4 597.5,246.0 601.6,252.7 605.8,260.2 608.3,266.0 609.9,271.3 616.6,269.3 623.3,266.8 629.9,263.5 636.6,260.2 641.6,256.8 645.7,251.9 646.6,249.4 643.2,246.0 639.9,242.7 638.3,240.2 633.3,241.9 630.8,245.2 627.4,244.4 626.6,240.2 623.3,236.9 620.8,233.5M638.3,240.2 646.6,242.7 654.9,243.0 662.4,243.0 666.6,246.9 669.1,249.4 671.6,251.9 674.9,249.4 675.7,254.3 678.2,261.0 681.5,269.3 684.9,276.8 687.4,281.0 689.9,278.5 691.5,274.3 691.5,266.0 694.0,262.7 699.9,257.7 706.5,253.5 711.5,250.2 717.4,249.0 720.7,254.3 724.0,261.0 725.7,264.3 729.0,262.7 731.5,264.3 733.2,270.2 734.8,276.0 735.7,280.2 738.2,284.3 741.5,289.3 744.0,293.5 745.7,296.8 746.5,295.1 744.0,289.3 740.7,284.3 738.2,280.2 736.5,274.3 739.0,270.2 744.8,273.5 748.2,277.7 751.5,276.0 754.0,274.3M690.7,281.0 692.4,278.0 694.9,280.2 696.2,284.3 693.2,286.3 691.2,284.7ZM754.0,311.0 752.3,307.6 747.3,302.6 741.5,296.8 735.7,291.8 729.8,287.7 725.7,287.7 727.3,291.0 731.5,296.0 736.5,301.8 742.3,307.6 748.2,312.6 754.0,315.1M727.3,293.5 728.2,294.3M730.7,296.8 734.0,302.6M754.0,251.9 750.7,253.5 749.0,256.8 750.7,260.2 754.0,261.8M719.9,270.2 720.7,273.5M623.3,326.8 624.9,329.3 625.8,334.3 624.1,340.9 621.6,349.3 618.3,355.9 613.3,357.3 609.9,352.6 610.8,345.9 611.6,339.3 614.1,335.1 619.1,331.0ZM584.1,300.1 587.5,299.0 590.0,300.1 589.1,304.3 585.8,306.0 583.6,304.0ZM578.3,307.6 579.6,312.6 581.6,317.6 583.0,319.3 580.8,314.3 579.1,310.1ZM589.6,321.8 590.3,326.8 592.0,332.3 590.8,326.8ZM632.1,272.0 635.3,272.3M540.0,311.0 542.5,316.0 544.2,322.6 541.7,329.3 542.5,335.9 545.0,344.3 547.5,352.6 550.0,360.9 551.7,366.8M543.0,268.0 545.8,269.7 546.7,271.8 544.2,271.3ZM636.6,346.8 637.6,347.3M641.1,345.1 642.1,345.6M785.6,232.7 784.0,237.7 780.6,241.9 775.6,246.0 769.8,248.5 764.0,250.2 759.0,251.4 754.0,252.4M782.3,245.2 784.3,243.0 785.3,246.9 783.6,250.2 782.0,248.5ZM755.7,253.5 759.0,252.4 761.0,255.2 759.0,258.5 756.0,257.7ZM754.0,264.3 756.5,267.7 757.3,271.8 754.8,276.0 754.0,276.3M781.5,259.3 786.5,257.7 786.5,263.5 788.1,268.5 791.5,271.8 794.0,274.3 791.5,275.2 787.3,271.8 784.0,268.5 781.5,264.3ZM787.3,276.8 791.5,275.2 794.8,278.5 795.6,282.7 794.0,286.8 790.6,286.0 789.8,282.7 786.5,281.0ZM774.8,280.2 780.6,274.3M798.1,241.0 799.8,239.4M802.3,236.4 803.1,235.7M756.5,296.8 760.7,294.3 766.5,289.3 772.3,285.7 775.6,284.3 779.0,288.5 776.5,294.3 779.0,298.5 776.5,303.5 770.7,307.6 764.0,306.0 759.0,304.3 757.3,301.0ZM793.1,296.8 785.6,297.6 781.5,299.3 779.8,304.3 780.6,311.0 783.1,310.1 782.3,306.0 784.8,303.5 787.3,311.0 789.0,310.1 786.5,302.6 789.8,300.6 785.6,300.1M797.6,295.6 799.3,295.6 799.8,301.8 798.1,301.8ZM754.0,313.5 760.7,316.0 769.0,318.5 777.3,319.3 784.0,319.0 792.3,317.6 797.3,318.0M754.0,315.1 762.3,317.6 770.7,320.1 780.6,321.3M789.8,322.1 794.5,319.6M805.6,316.8 807.0,315.5M812.3,314.3 813.6,312.3M794.8,307.1 804.0,307.6M791.5,303.5 793.1,304.0M805.6,300.6 811.5,300.1 814.0,303.5 820.6,302.6 827.3,304.3 833.9,306.8 838.9,309.3 841.4,312.6 844.8,317.6 849.8,322.6 847.3,323.5 842.3,320.1 837.3,316.8 832.3,319.3 827.3,319.6 822.3,317.6 820.6,313.5 815.6,311.0 810.6,308.5 808.1,304.3ZM843.9,313.0 849.8,312.3 853.9,310.1 854.7,307.6 850.6,305.6M858.9,312.3 863.1,314.6M864.7,316.8 868.9,318.5M870.6,319.3 874.7,323.5M885.6,332.6 887.2,336.3M879.7,344.6 882.2,345.1 886.9,348.9 885.6,349.8 881.4,347.6ZM908.9,338.4 911.4,336.8 915.0,336.3M767.3,366.8 766.5,359.3 768.2,352.6 770.7,347.6 775.6,345.9 780.6,343.4 785.6,340.1 789.8,336.8 793.1,332.6 798.1,331.0 801.5,332.6 804.0,329.3 804.8,326.0 809.8,325.1 814.0,326.3 818.1,327.3 817.3,331.0 820.6,334.3 824.8,338.4 828.1,336.8 829.8,331.0 830.9,325.1 832.3,324.3 833.9,329.3 836.4,334.3 838.9,339.3 843.1,344.3 847.3,349.3 851.4,353.4 853.9,357.6 855.6,362.6 855.9,366.8M155.6,249.9 157.8,250.5M160.3,251.0 162.8,252.4M165.0,254.0 167.3,254.3 168.3,256.3 166.0,257.0ZM127.8,329.3 131.2,331.0M179.4,338.4 180.6,339.6M113.3,486.6 128.7,489.1 148.6,490.8 162.0,490.3 175.3,490.8 187.8,490.3 185.3,489.1 175.3,487.4 170.3,484.9 169.5,481.6 178.6,479.9 188.6,479.9 181.9,478.3 173.6,476.6 165.3,474.9 160.3,473.3 162.0,471.6 175.3,470.8 186.9,469.6 198.6,467.9 210.3,466.3 216.9,466.6 223.6,468.6 230.2,469.6 233.6,466.6 238.6,463.3 245.2,464.1 251.9,466.6 258.5,467.4 263.5,465.0 268.5,467.4 276.9,466.6 285.2,465.0 288.5,461.6 293.5,460.8 298.5,463.3 295.2,465.0 288.5,466.6 300.2,461.6 311.8,462.5 326.0,462.5M147.8,476.9 151.1,475.8 155.6,476.6 155.0,478.3 150.3,478.8ZM118.3,397.5 120.0,398.0M355.1,366.7 353.5,373.4 351.0,380.0 348.5,386.7 347.6,393.3 346.0,400.0 345.2,408.3 346.8,415.0 351.0,420.0 356.8,422.5 361.8,423.3 367.6,421.7 361.8,419.2 360.1,415.0 361.8,410.0 365.1,405.8 363.5,402.5 367.6,397.5 369.3,393.3 373.5,390.0 375.1,386.7 381.0,385.9 385.1,382.5 386.8,378.4 383.5,375.9 389.3,376.7 395.9,372.5 400.1,368.4 401.8,366.7M376.8,415.0 381.0,413.8 384.6,415.0 381.8,416.7 377.6,416.3ZM428.4,420.0 433.4,421.7M410.1,434.6 412.6,435.3M376.8,438.6 385.1,438.0M326.0,462.8 337.7,462.8 342.7,460.8 349.3,463.3 359.3,463.0 364.3,460.0 363.5,455.8 360.1,452.5 361.8,450.0 367.6,446.6 374.3,444.1 382.6,441.6 390.9,440.8 384.3,443.0 376.0,445.0 370.1,446.6 367.6,450.0 371.0,453.3 375.1,456.6 377.6,460.0 379.3,463.3 376.0,466.6 371.0,469.1 366.0,470.8 363.5,471.9 372.6,471.6 382.6,472.4 395.9,474.6 409.3,475.8 422.6,475.8 432.6,474.6 442.6,471.9 452.6,469.1 462.6,465.8 472.5,463.3 482.5,461.3 487.5,459.1 492.5,458.6 495.9,458.0 499.2,458.6 502.5,457.5 507.5,456.6 510.8,458.3 515.8,459.1 522.5,457.5 530.8,456.3 540.0,455.8M342.7,457.5 346.0,455.8 348.5,457.5 345.2,459.1ZM351.0,455.8 354.3,453.3 358.5,456.6 355.1,458.3M551.7,366.7 553.3,371.7 556.7,375.9 563.3,376.4 571.6,374.2 578.3,370.9 582.5,366.7M540.0,456.6 550.0,457.0 565.0,457.5 578.3,455.8 588.3,454.1 590.0,453.0 595.0,455.0 600.0,455.8 606.6,452.5 614.9,451.3 624.1,450.8 625.8,448.3 630.8,447.0 636.6,447.1 641.6,449.1 649.9,450.0 659.9,450.8 668.2,451.3 669.1,455.8 671.6,457.5 678.2,455.8 686.5,453.3 696.5,450.0 706.5,448.6 719.9,448.3 731.5,448.3 739.8,447.5 744.8,447.0 754.0,448.3M666.6,408.3 670.7,409.2 671.2,410.8 667.4,411.3ZM769.8,366.7 770.7,373.4 774.0,377.5 779.0,377.5 785.6,375.0 792.3,372.5 800.6,370.4 807.3,370.0 812.3,371.7 816.4,375.9 819.8,374.2 820.6,372.5 821.9,376.7 820.6,380.0 825.6,382.5 830.6,385.0 835.6,385.9 840.6,386.7 845.6,385.0 848.9,381.7 852.3,376.7 854.7,371.7 855.6,366.7M836.4,391.3 840.6,391.7 844.8,391.3 843.9,395.0 840.6,397.5 837.3,395.3ZM898.9,376.7 901.4,380.0 903.9,383.4 908.0,384.2 911.4,383.4 910.5,386.7 906.4,390.0 903.0,392.5 900.5,391.7 903.0,387.5 902.2,383.4 899.7,380.0ZM900.5,391.7 898.9,395.0 893.9,398.3 888.1,402.5 887.2,405.3 884.7,402.5 887.2,400.0 892.2,396.7 896.4,393.3ZM754.0,448.3 760.7,447.5 766.5,446.6 774.0,448.0 784.0,448.6 794.0,448.0 802.3,449.1 804.0,447.5 814.0,447.5 825.6,448.3 835.6,450.0 840.6,452.0 850.6,453.0 860.6,454.1 870.6,455.0 873.9,457.5 876.4,456.6 883.9,457.5 892.2,458.3 895.2,460.3 890.6,462.5 883.9,465.0 878.1,467.4 877.2,470.8 880.6,473.3 883.1,474.6 877.2,475.8 871.4,476.6 869.7,479.1 871.4,481.6 877.2,483.3 887.2,485.3 898.9,486.3 915.0,486.6M884.7,472.1 892.2,472.6M310.9,117.0 319.7,115.2 332.1,113.9 348.3,113.3 364.5,113.9 376.9,115.8 373.2,117.7 364.5,119.5 354.5,121.4 349.6,123.3 345.8,125.1 340.8,126.4 337.1,128.2 334.6,130.7 327.1,131.4 317.2,130.7 310.9,130.1 309.7,128.2 317.2,127.6 322.2,125.1 324.6,122.6 322.2,120.8 315.9,120.2 310.9,118.9ZM312.2,119.7 327.1,119.2 340.8,118.9M301.6,119.5 306.0,117.7 310.9,118.3 315.9,120.8 317.2,123.3 314.7,125.1 307.2,125.1 303.5,122.6ZM235.6,129.5 242.5,127.6 249.9,126.4 258.6,124.5 267.4,123.9 271.1,125.1 267.4,126.4 262.4,127.0 267.4,128.2 272.3,129.5 277.3,130.7 272.3,132.0 266.1,131.4 259.9,130.7 254.9,132.0 248.7,130.7 242.5,130.7 237.5,130.1ZM234.4,138.2 236.2,135.1 242.5,133.9 248.7,134.5 254.9,135.7 252.4,137.6 248.7,138.8 242.5,140.7 237.5,140.7ZM248.7,137.6 257.4,137.0 267.4,136.3 276.1,135.7 279.8,137.6 281.1,140.7 284.8,142.6 288.5,143.8 286.0,145.7 279.8,145.1 273.6,144.4 272.3,146.9 271.1,148.8 263.6,148.8 257.4,148.2 254.9,145.1 252.4,141.9 248.7,140.1ZM276.1,122.6 283.5,122.0 291.0,122.6 294.8,120.8 297.2,123.3 299.7,125.1 304.7,126.4 299.7,127.6 294.8,127.0 289.8,126.4 283.5,125.8 278.6,124.5ZM278.6,126.4 286.0,127.6 292.3,128.9 296.0,130.7 292.3,132.0 286.0,131.4 281.1,130.1 277.9,128.2ZM284.8,135.7 291.0,134.5 297.2,135.7 299.1,138.2 297.2,140.1 292.3,140.7 287.3,139.5 284.2,137.6ZM299.7,130.7 306.0,130.1 308.5,132.0 307.2,133.9 302.2,133.9 299.1,132.6ZM289.8,145.1 296.0,143.8 301.0,144.4 302.2,146.9 298.5,148.8 294.8,147.6 291.0,147.6ZM309.7,131.4 317.2,132.0 327.1,132.0 335.9,132.6 333.4,134.5 324.6,134.5 317.2,134.5 310.9,133.9ZM303.5,137.0 309.7,135.7 317.2,135.1 322.2,137.0 327.1,136.3 333.4,137.6 342.1,137.0 348.3,138.8 354.5,140.7 359.5,142.6 363.9,144.4 365.1,146.3 370.7,147.6 376.9,150.7 374.5,153.2 368.2,152.5 370.7,155.6 368.2,158.1 363.3,159.4 359.5,157.5 364.5,155.6 362.0,153.8 357.0,155.0 350.8,156.3 342.1,155.6 338.3,155.0 343.3,153.2 349.6,151.9 351.4,149.4 348.3,146.9 343.3,146.3 342.1,148.8 338.3,147.6 333.4,145.1 328.4,143.8 324.6,145.1 322.2,148.8 319.0,148.8 317.2,146.3 312.8,143.8 309.7,141.3 306.0,139.5ZM245.2,143.7 251.2,143.2 253.7,145.1 256.2,147.6 262.4,148.8 271.1,149.4 279.8,148.8 286.0,148.2 292.3,147.6 297.2,148.8 302.2,147.6 303.5,145.1 307.2,144.4 310.9,145.7 315.9,147.6 319.7,150.7 322.8,152.5 320.9,155.6 317.2,156.9 312.2,158.1 307.2,160.6 303.5,163.7 301.6,166.2 302.9,168.7 306.0,170.0 307.2,171.8 314.7,173.7 322.2,175.6 328.4,177.4 329.6,181.2 333.4,182.4 335.9,185.5 338.3,182.4 337.1,178.7 340.8,175.6 342.7,172.5 339.6,170.0 340.2,166.2 339.6,162.5 342.1,161.2 347.1,161.2 352.0,162.5 355.8,163.7 359.5,166.2 362.0,168.7 365.7,167.5 368.2,165.0 372.0,167.5 374.5,170.0 378.2,173.7 383.2,177.4 386.9,181.2 390.0,182.4M319.7,152.5 324.6,151.3 329.6,153.8 333.4,156.3 329.6,157.5 324.6,156.9 320.9,155.6ZM334.0,160.0 336.5,160.3 336.2,162.5 334.4,162.2ZM334.6,173.1 337.1,173.3 336.8,174.9 334.9,174.7ZM330.9,181.4 332.7,182.4M310.9,145.7 312.2,141.3 315.9,138.8 320.9,138.2 322.2,140.7 319.7,143.8 317.2,146.3M234.4,151.9 240.0,150.0 249.9,150.7 247.4,153.2 242.5,155.0 237.5,154.4ZM252.4,162.5 257.4,160.6 269.9,158.8 266.1,160.6 261.1,162.5 256.2,163.7ZM265.5,168.1 273.6,166.2 269.9,168.7ZM283.5,171.2 286.0,169.3 286.7,172.5 284.2,174.3ZM287.9,181.2 294.8,179.3 297.9,184.9 296.0,187.7 292.3,184.9ZM481.2,237.8 482.5,235.5 487.5,232.4 491.2,228.7 494.9,224.9 498.7,221.2 500.5,218.7M542.3,152.7 534.8,155.8 529.8,158.3 525.5,160.8 524.2,163.9 525.5,167.6 527.3,169.5 532.3,168.9 536.0,168.3 538.5,167.6 541.0,171.4 543.5,174.5 547.2,173.9 551.0,171.4 553.5,167.6 554.7,164.5 552.9,161.4 554.7,158.9 559.7,155.8 564.7,153.3M569.7,152.7 567.2,155.2 562.2,157.7 560.9,160.8 562.2,163.9 565.9,165.2 574.6,164.5 580.9,163.9M580.9,165.2 574.6,166.1 569.7,167.0 567.2,168.9 567.8,171.4 565.9,172.6 562.8,171.4 560.9,170.1 561.6,173.2 560.9,175.7 557.2,177.6 552.2,178.2 547.2,177.6 542.3,178.2 538.5,177.6 541.0,175.7 539.8,173.9 538.5,171.4 534.8,171.4 532.3,172.6 532.9,175.1 534.8,176.4 532.3,178.9 527.3,180.7 523.6,182.6 519.9,185.1 514.9,187.6 509.9,189.4 504.9,190.7 503.7,192.6 506.8,193.2 509.9,195.0 510.5,198.8 509.9,201.9 504.9,202.5 497.4,202.5 493.7,203.8 493.1,207.5 492.5,212.5 493.7,216.2 497.4,217.5 500.5,218.7M580.9,163.3 583.4,162.0 586.5,163.3 585.9,165.4 582.7,166.1ZM553.5,170.9 555.3,172.0M564.1,168.9 566.6,168.3 568.2,170.8 566.6,172.6 564.4,171.4ZM498.7,169.5 501.8,168.3 504.9,168.9 506.8,167.6 508.6,169.5 506.8,171.4 508.0,173.9 510.5,176.4 513.0,178.9 516.1,181.3 517.4,183.2 515.5,185.1 512.4,185.7 508.6,186.3 504.9,186.9 501.8,187.6 503.7,185.7 502.4,183.8 504.9,182.6 503.7,180.7 501.8,178.9 502.4,176.4 499.9,174.5 500.5,172.0 498.1,170.8ZM490.6,179.5 493.7,177.6 497.4,177.0 499.9,178.2 499.3,182.0 496.2,183.8 492.5,184.5 490.6,182.6ZM496.8,160.7 499.3,161.0M509.9,165.0 510.9,165.7M535.4,201.3 538.5,200.0 541.0,198.2 543.5,198.2 547.9,200.6 552.2,203.8 556.0,206.9 557.8,209.4 555.3,210.6 553.5,209.4 552.2,211.2 551.6,214.0 549.7,215.0 549.1,212.5 546.0,210.0 542.9,206.9 540.4,203.8 537.9,201.9ZM541.0,214.7 544.8,214.0 548.2,214.7 547.2,217.5 544.1,217.7ZM532.1,204.4 534.5,203.8 535.0,207.5 534.8,211.9 532.9,213.1 531.7,210.0ZM518.6,210.9 520.5,211.4M500.5,218.7 504.9,217.5 508.6,216.2 511.1,212.5 513.0,210.0 516.1,207.5 519.9,204.4 522.3,202.5 526.1,202.5 529.8,201.3 535.4,201.3M542.3,197.3 547.2,197.3 552.9,200.3 557.8,204.4 561.2,208.5 561.6,212.5 562.8,215.6 564.7,218.3 566.7,217.2 565.1,214.7 564.2,212.5 566.2,211.0 567.2,209.0 570.3,208.5 572.8,210.0 572.4,213.1 571.9,215.6 574.6,217.7 578.4,219.3 582.1,218.5 585.9,219.7 590.2,219.0 593.9,217.5 593.9,220.9 592.7,224.7 591.5,228.0 589.8,230.9 588.1,233.0M565.9,220.8 572.2,221.3M585.2,220.9 590.2,219.9 589.6,222.2 586.5,222.7ZM574.6,205.0 576.5,201.9 579.6,198.2 582.7,195.7 585.9,195.7 588.3,197.5 592.1,195.7 597.1,194.4 600.8,194.0 598.3,195.7 593.9,197.5 597.1,199.0 602.0,200.6 605.8,202.5 607.0,205.0 605.2,206.9 599.6,207.7 594.6,207.5 589.6,206.5 584.6,206.9 579.6,208.1 575.9,208.1ZM572.8,209.5 578.4,208.7M617.6,198.8 620.1,195.7 625.7,194.0 631.9,194.4 634.4,196.9 632.6,199.0 628.2,199.4 626.3,200.6 629.4,202.5 633.8,205.0 635.7,207.5 634.4,210.6 635.0,215.0 632.6,217.5 628.2,218.1 624.5,216.2 622.6,213.1 623.2,209.4 620.7,205.0 618.2,201.9ZM500.5,220.6 504.9,219.9 512.4,218.7 519.9,217.5 527.3,216.8 534.8,216.8 537.3,218.7 536.0,222.4 538.5,224.9 544.8,226.8 551.0,229.3 554.7,231.8 558.5,229.9 560.9,227.4 567.2,227.4 573.4,228.7 579.6,230.5 584.6,229.9 588.3,229.3 590.2,230.5M585.9,233.0 588.3,237.8M590.2,234.3 592.1,237.8M620.7,232.4 624.5,231.8 629.4,237.8M298.3,232.7 302.3,233.3 307.2,232.8 312.2,232.2 314.7,233.7 317.2,231.9 322.2,231.2 325.9,232.2 327.8,235.0 329.0,238.7 330.9,242.4 332.8,244.3 334.0,242.4 333.4,238.7 332.2,235.0 331.3,232.2M325.9,197.6 329.7,196.4 333.4,197.6 334.6,200.1 332.2,202.0 329.0,202.6 327.2,200.7Z" fill="none" stroke="#000" stroke-width="1.55" stroke-linejoin="round" stroke-linecap="round"/><path id="holes" d="M112,218.6 121.7,218.6 121.7,227.3 112,227.3ZM396.1,218.2 403.5,218.2 403.5,222.5 396.1,222.5ZM367.2,225 374.3,225 374.3,229.4 367.2,229.4ZM864.7,216.1 873.1,216.1 873.1,230.3 864.7,230.3ZM873.9,211.9 880.6,211.9 880.6,218.6 873.9,218.6ZM877.5,182.6 882.2,185 885,186.4 886.8,192 889.6,195.7 892.4,198.5 892.4,217.2 894.3,223.7 896.2,224.7 896.2,228.9 914.4,228.9 914.4,213.9 905.5,213.9 905.5,220.9 900.4,220.9 898,218.1 897.6,195.7 895.7,192.4 894.3,190.1 893.8,184.5 914.4,184.5 914.4,178.9 877.5,178.9ZM113.3,232.7 123.7,232.7 124,238.5 139.5,241.9 152,244.4 169.5,251 171.1,260.2 162,260.2 160.3,254.3 142,249.4 140.3,266.8 131.2,266.8 128.7,257.7 122,256 128.7,249.4 122,240.2 113.3,240.2ZM113.3,256.8 128.7,256.8 128.7,263.5 113.3,263.5ZM128.7,274.3 151.1,274.3 151.1,276.8 162,276.8 162,282.7 164.5,287.7 164.5,294.3 168.6,294.3 168.6,301 157.8,301 157,296.8 152.8,295.1 147.8,287.7 147.8,282.7 140.3,281 139.5,277.7 128.7,277.7ZM113.3,281 121.7,281 121.7,287.7 113.3,287.7ZM140,307.6 151.1,307.6 151.1,316 155.6,316.8 155.6,331.8 147,331.8 146.1,327.6 142,323.5 140,316ZM126.2,316.8 132.8,316.8 132.8,323.5 126.2,323.5ZM113.3,321 123.7,321 124.5,326 131.2,328.5 139.5,330.1 139.5,334.3 131.2,335.1 128.7,349.3 123.7,350.1 121.2,366.8 113.3,366.8ZM228.6,246.9 236.1,246.9 236.1,251.9 228.6,251.9ZM193.6,316.8 197.8,314.3 204.4,314.3 205.3,318.5 209.4,321 215.2,321.8 215.2,326 208.6,326 207.8,327.6 200.3,327.6 199.4,322.6 193.6,320.1ZM157.3,340.9 164.5,340.9 164.5,345.9 157.3,345.9ZM171.1,347.6 183.6,347.6 185.3,350.9 190.3,351.8 191.9,356.8 201.9,356.8 202.8,366.8 181.1,366.8 180.3,355.9 176.1,352.6 171.1,351.8ZM505.7,307.7 512.2,307.7 512.7,309.3 520.9,309.9 520.9,313.7 518.7,316.4 510,316.4 510,312.1 505.7,311.5ZM633.3,344.3 644.1,343.4 646.6,347.6 643.2,351.8 636.6,351.8 633.3,349.3ZM724,325.1 731.5,325.1 731.5,331.8 724,331.8ZM733.2,321 738.2,321 738.2,326 733.2,326ZM811.5,265.2 818.1,265.2 818.1,270.2 811.5,270.2ZM853.9,245.2 860.6,245.2 860.6,249.4 853.9,249.4ZM860.6,251.9 867.2,251.9 867.2,256 860.6,256ZM869.7,253.5 875.6,253.5 875.6,257.7 869.7,257.7ZM877.2,251.9 883.1,251.9 883.1,256 877.2,256ZM858.1,262.7 867.2,262.7 867.2,269.3 858.1,269.3ZM900.5,247.7 915,246.9 915,266 912.2,266.8 906.4,267.7 905.5,262.7 898.9,262.7 892.2,260.2 892.2,256ZM870.6,274.3 876.4,268.5 890.6,267.7 895.5,272.7 898.9,281 900.5,289.3 905.5,296 911.4,301 911.4,306.8 900.5,306.8 897.2,302.6 893.1,299.3 893.1,290.2 887.2,291 887.2,282.7 882.2,276 876.4,281 870.6,282.7ZM742.3,345.8 757.9,345.8 757.9,341.7 762.9,341.7 762.9,332.7 765.4,332.7 765.4,327.7 780.3,327.7 780.3,381.2 758.2,381.2 758.2,370.7 765.1,370.7 765.1,365.4 762.9,365.4 762.9,363.5 758.2,363.5 758.2,358.5 753.9,358.5 753.9,356.3 751.1,356.3 751.1,351.7 742.3,351.7ZM714.9,361.6 722.1,361.6 722.1,359.8 729.3,359.8 729.3,357 736.1,357 736.1,354.8 741.7,354.8 741.7,358.5 737,358.5 737,365.7 741.7,365.7 741.7,368.5 743.9,368.5 743.9,374.4 724.9,374.4 724.9,372.5 714.9,372.5ZM714.9,381.9 718.1,381.9 718.1,379.7 724,379.7 724,381.9 726.2,381.9 726.2,385.9 730.8,385.9 730.8,388.1 714.9,388.1ZM740.2,327.4 746.1,327.4 746.1,329.4 740.2,329.4ZM754.2,327.7 765.4,327.7 765.4,329.6 759.8,329.6 759.8,331.7 754.2,331.7ZM133.3,381.4 142,381.4 142,390 133.3,390ZM159.8,399.2 164.8,399.2 164.8,403.7 159.8,403.7ZM197.8,366.7 202.8,366.7 202.8,368 197.8,368ZM300.2,428.3 306.8,428.3 306.8,432.5 300.2,432.5ZM309.3,444.1 316,444.1 316,448.3 309.3,448.3ZM302.7,399.2 309.3,399.2 309.3,403.7 302.7,403.7ZM540,406.7 543.3,410.8 560.8,411.7 561.6,413.3 579.1,413.3 579.1,421.7 570,422.5 570,427.5 561.6,427.5 560,424.2 540,420Z" fill="#c0c0c0"/></defs>
<g id="panel1">
<rect x="112.0" y="98.6" width="803.0" height="402.1" fill="#c0c0c0"/>
<g transform="translate(0,0)" clip-path="url(#frame)"><g shape-rendering="crispEdges"><g clip-path="url(#mask)"><rect x="112" y="98" width="803" height="403" fill="#90c3dd"/><path d="M112,98 915,98 915,121 112,121Z" fill="#5d91c1"/><path d="M112,185.6 137,185.6 137,183.1 147.8,183.1 146.1,190.6 150.3,198.9 147.8,205.6 149.5,212.2 147,214.7 142.8,212.2 140.3,207.2 141.1,202.2 137,198.9 130.3,197.3 122,196.4 112,198.4Z" fill="#74add1"/><path d="M217.7,210.6 232.7,210.6 235.2,221.4 241.1,222.2 241.1,232.2 235.2,227.2 231.1,218.9 226.9,214.7Z" fill="#74add1"/><path d="M834.8,220.6 834.8,208.9 838.9,206.4 877.2,181.4 883.1,184.8 886.4,189.8 888.1,195.6 890.6,198.9 893.1,207.2 887.2,205.6 880.6,209.7 870.6,208.9 860.6,210.6 847.3,213.1 838.9,218.1Z" fill="#74add1"/><path d="M893.1,183.9 915.5,186.4 915.5,198.9 908.9,197.3 900.5,194.8 897.2,192.3Z" fill="#74add1"/><path d="M281,317.1 297.2,317.1 297.2,334.2 281,334.2Z" fill="#abd9e9"/><path d="M276.9,338.2 303.5,335.4 308.5,337.9 326.8,337.6 326.8,352.1 276.9,352.1Z" fill="#abd9e9"/><path d="M328.5,332.9 333.5,328.8 339.3,332.1 339.3,336.2 334.3,340.4 328.5,344.2Z" fill="#abd9e9"/><path d="M346,358.7 353.5,358.7 353.5,367.9 346,367.9Z" fill="#abd9e9"/><path d="M347.6,158.1 540.8,158.1 540.8,266.3 471.7,266.3 465.9,270 457.6,271.6 449.2,268.3 442.6,264.6 434.2,263.8 425.9,266.3 420.9,266.3 416.8,260.5 409.3,266.3 399.3,267.1 386.8,265.5 347.6,265.5Z" fill="#feeda6"/><path d="M347.6,265.5 386.8,265.5 399.3,267.1 409.3,266.3 416.8,260.5 420.9,266.3 425.9,266.3 434.2,263.8 442.6,264.6 449.2,268.3 457.6,271.6 465.9,270 471.7,266.3 540.8,266.3 540.8,279.6 472.5,278.8 459.2,285.5 454.2,287.1 450.1,284.6 442.6,291.3 435.9,299.6 429.2,298.8 415.9,299.6 347.6,299.6Z" fill="#ffffbf"/><path d="M415.9,299.6 429.2,298.8 435.9,299.6 442.6,291.3 450.1,284.6 454.2,287.1 459.2,285.5 472.5,278.8 540.8,279.6 540.8,293.3 469.2,293.8 480,306.3 476.7,314.9 470.9,313.3 459.2,308.3 440.9,306.3 415.9,306.3Z" fill="#eef8df"/><path d="M425.9,306.3 440.9,306.3 459.2,308.3 470.9,313.3 476.7,314.9 480,306.3 469.2,293.8 540.8,293.3 540.8,349.6 517.5,349.6 517.5,375.4 425.9,375.4Z" fill="#e0f3f8"/><path d="M497.5,316.3 505,313.8 520.8,315.4 525.8,311.3 531.7,319.6 534.2,332.9 530.8,342.9 525.8,346.2 519.2,356.2 515.8,367.1 509.2,377.9 490.9,377.9 490.9,326.3Z" fill="#c6e6f0"/><path d="M430.1,362.1 432.6,356.2 435.9,353.7 450.1,352.9 450.9,357.1 442.6,358.7 435.9,362.1Z" fill="#c6e6f0"/><path d="M492.5,323.8 499.2,323.8 499.2,328.8 492.5,328.8Z" fill="#c6e6f0"/><path d="M343.5,266.3 348.5,266.3 348.5,271.3 343.5,271.3Z" fill="#fdae61"/><path d="M362.1,262.1 368.5,262.1 368.5,273 362.1,273Z" fill="#fdae61"/><path d="M371.8,218.5 381.1,212.9 392.3,209.7 394.8,209.1 399.8,210.4 409.8,210.4 409.8,202.3 414.8,200.4 416.6,197.9 419.7,197.9 419.7,202.3 427.8,202.3 427.8,204.8 435.3,204.8 435.3,209.1 429.7,210.4 429.7,212.9 424.7,214.7 422.2,219.1 417.2,220.9 414.8,225.3 410.4,230.3 409.2,245.9 405.4,245.9 404.8,235.3 402.3,228.4 387.4,224.1 374.9,220.9Z" fill="#fee090"/><path d="M361.8,214.7 361.8,211.6 367.4,211.6 369.9,209.1 374.9,209.1 374.9,206.6 379.9,204.8 393,204.8 393,207.9 381.1,211 372.4,216 367.4,215.3Z" fill="#fee090"/><path d="M411.6,182.3 415.4,182.3 419.7,186.7 424.7,188.6 432.2,188.6 432.2,186.7 435.9,186.7 439.7,191.7 439.7,194.2 435.9,196.7 432.2,197.3 430.3,199.8 430.3,203.5 426.6,203.5 426.6,199.8 420.4,198.5 420.4,194.2 417.2,191.7 414.1,187.9 411.6,184.8Z" fill="#fee090"/><path d="M430.9,186.7 435.9,186.7 439.7,191.7 439.7,194.2 435.9,196.7 431.6,196 432.8,191.7Z" fill="#fdc778"/><path d="M427.2,197.9 430.3,197.9 430.3,203.5 427.2,203.5Z" fill="#fdc778"/><path d="M462.1,184.8 477.6,184.8 477.6,189.2 482,191.7 484.5,193.5 497.6,195.4 497.6,199.2 487,199.2 485.1,197.3 484.5,201 484.5,205.4 488.2,209.1 488.2,214.1 480.8,214.7 472,210.4 471.4,205.4 467.7,202.9 466.4,197.9 462.1,196Z" fill="#fee090"/><path d="M462.1,189.2 467.1,189.2 467.1,184.8 477.6,184.8 477.6,188.6 473.3,189.8 468.3,193.5 467.7,198.5 462.1,196Z" fill="#fdc778"/><path d="M415.4,260.2 417.9,262 419.7,268.9 427.2,266.6 437.2,264.5 449.6,266.4 457.1,270.4 467.1,269.1 470.2,273.9 415.4,273.9Z" fill="#ffffbf"/><path d="M386.7,267 391.1,268.9 399.8,271.4 405.4,273.9 386.7,273.9Z" fill="#ffffbf"/><path d="M500.9,394.5 505.9,387 510.8,386.2 515.8,383.7 540.8,383.7 540.8,392.8 528.3,394.5 518.3,389.5 509.2,390.3 505.9,394.5Z" fill="#abd9e9"/><path d="M406.8,423.6 540,418.6 580,417 639.9,416.1 648.2,423.6 656.6,430.3 679.1,431.1 679.1,466.9 406.8,466.9Z" fill="#5d91c1"/><path d="M633.3,367 679.1,367 679.1,388.6 673.2,394.5 656.6,402 649.9,405.3 649.1,412 656.6,415.3 662.4,417 669.1,419.5 669.1,424.5 661.6,430.3 654.9,428.6 646.6,422 641.6,413.6 632.4,413.6 630.8,417 617.4,412 618.3,408.6 636.6,408.6 639.1,406.1 638.3,398.6 634.9,394.5 634.9,386.2 639.9,382.8 646.6,375.3Z" fill="#74add1"/><path d="M668.2,388.6 667.4,391 665,393.1 661.4,394.7 656.7,395.8 651.6,396.1 646.4,395.8 641.8,394.7 638.1,393.1 635.7,391 634.9,388.6 635.7,386.3 638.1,384.2 641.8,382.6 646.4,381.5 651.6,381.2 656.7,381.5 661.4,382.6 665,384.2 667.4,386.3Z" fill="#90c3dd"/><path d="M659.9,389 659.4,389.9 658,390.6 655.8,391.3 653,391.7 649.9,391.8 646.8,391.7 644,391.3 641.8,390.6 640.4,389.9 639.9,389 640.4,388.1 641.8,387.3 644,386.7 646.8,386.3 649.9,386.2 653,386.3 655.8,386.7 658,387.3 659.4,388.1Z" fill="#abd9e9"/><path d="M543.3,400.3 560,404.5 581.6,399.5 581.6,412 561.6,412 543.3,410.3Z" fill="#74add1"/><path d="M580,417 581.6,412 599.1,408.6 610.8,408.6 610.8,411.1 600,412 597.5,417Z" fill="#74add1"/><path d="M548.3,385.3 566.6,383.7 565,393.6 550,393.6Z" fill="#abd9e9"/><path d="M623.3,366.2 642.4,366.2 642.4,378.7 623.3,378.7Z" fill="#abd9e9"/><path d="M694.9,415.3 754.8,422 754.8,441.1 694.9,441.1Z" fill="#5d91c1"/><path d="M696.5,407.8 723.2,413.6 723.2,415.6 696.5,417Z" fill="#74add1"/><path d="M714,366.2 754.8,366.2 754.8,396.1 714,396.1Z" fill="#abd9e9"/><path d="M753.2,366.2 837.3,366.2 837.3,409.5 753.2,409.5Z" fill="#abd9e9"/><path d="M753.2,417 842.3,417 842.3,441.1 753.2,441.1Z" fill="#5d91c1"/><path d="M770.7,420.6 779.8,416.6 781.5,414.1 789,412.5 795.6,413.3 797.3,416.6 804,420 812.3,423.3 820.6,425 825.6,429.1 828.9,432.8 820.6,428.3 812.3,426.5 797.3,424.8 787.3,424 779,420 774,422Z" fill="#74add1"/><path d="M853.1,413.6 863.9,417 863.1,425 853.1,419.5Z" fill="#74add1"/><path d="M870.6,421.1 915.5,413.6 915.5,429.4 895.5,429.9 878.9,428.6 870.6,426.1Z" fill="#74add1"/><path d="M878.1,428.9 895.5,430.3 915.5,429.8 915.5,438.6 878.1,438.6Z" fill="#5d91c1"/><path d="M112,415.3 121.2,414.5 121.2,407 132,407 150.3,410.3 167,415.3 180.3,417.8 178.6,419 167,419 161.1,422.8 160.3,429.4 112,429.4Z" fill="#74add1"/><path d="M112,428.9 152,428.9 150.3,432.8 146.1,435.3 142,432.8 112,436.1Z" fill="#5d91c1"/><path d="M112,450.3 162,444.4 191.9,437.8 201.9,431.1 228.6,430.3 231.1,423.6 271.9,417 326.8,417 326.8,466.9 112,466.9Z" fill="#4575b4"/><path d="M271.9,383.7 326.8,383.7 326.8,427.3 295.2,424 273.5,420 271.9,417Z" fill="#5d91c1"/><path d="M325.2,407 361.8,407 361.8,430.3 325.2,430.3Z" fill="#5d91c1"/><path d="M325.2,426.1 351,427.3 361.8,429.4 361.8,452.8 325.2,452.8Z" fill="#4575b4"/><path d="M386,372 489.2,372 489.2,431.9 386,431.9Z" fill="#74add1"/><path d="M397.6,390.3 402.6,382 412.6,376.2 414.3,372 429.2,372 439.2,375.3 448.4,380.3 465.9,384.5 468.4,401.1 471.7,407.8 467.5,408.6 459.2,405.3 445.9,402 432.6,399.5 419.3,397 409.3,394.5 400.9,393.6Z" fill="#90c3dd"/><path d="M409.3,388.6 412.6,378.7 415.9,372 429.2,372 439.2,375.3 448.4,380.3 465.9,384.5 468.4,400.3 465.9,404.5 459.2,402 445.9,397 432.6,394.5 419.3,392 412.6,391.1Z" fill="#abd9e9"/><path d="M420.9,383.7 421.8,377 425.9,373.7 432.6,374.5 437.6,380.3 440.9,388.6 440.1,394.5 432.6,392 425.9,389.5Z" fill="#c6e6f0"/><path d="M459.2,410.6 470.9,407 488.4,422 488.4,431.9 460.1,431.9 459.2,422 467.5,425.3 467.5,420.3 463.4,416.1Z" fill="#5d91c1"/><path d="M450.9,366.2 473.4,366.2 473.4,375.3 450.9,375.3Z" fill="#e0f3f8"/><path d="M443.4,380.3 449.2,380.3 449.2,386.2 443.4,386.2Z" fill="#e0f3f8"/><path d="M453.4,381.2 465.9,381.2 465.9,388.6 453.4,388.6Z" fill="#eef8df"/><path d="M609.9,258 781.5,258 781.5,366.2 609.9,366.2Z" fill="#abd9e9"/><path d="M611.6,278 661.6,278 661.6,317.9 611.6,317.9Z" fill="#c6e6f0"/><path d="M654.1,364.2 674.1,364.2 674.1,367.9 654.1,367.9Z" fill="#74add1"/><path d="M783.1,288 793.1,288 793.1,296.3 783.1,296.3Z" fill="#eef8df"/><path d="M899.7,351.2 912.2,351.2 912.2,359.6 899.7,359.6Z" fill="#c6e6f0"/><path d="M846.4,327.1 856.4,327.1 856.4,333.7 846.4,333.7Z" fill="#abd9e9"/><path d="M877.2,324.6 883.9,324.6 883.9,328.8 877.2,328.8Z" fill="#abd9e9"/><path d="M875.6,333.7 879.7,333.7 879.7,337.9 875.6,337.9Z" fill="#abd9e9"/></g><use href="#holes"/><path d="M771,327.4 778.1,327.4 778.1,334.5 771,334.5ZM757.6,347.6 762.9,347.6 762.9,350.4 757.6,350.4ZM906.4,261 910.5,261 910.5,264.3 906.4,264.3Z" fill="#90c3dd"/></g><use href="#coast"/></g>
<rect x="112.0" y="98.6" width="803.0" height="402.1" fill="none" stroke="#000" stroke-width="1.6"/>
<text x="513.5" y="34.3" font-size="27.8" text-anchor="middle" xml:space="preserve">NHISTfrc2NRP (yrs 1945-1949)</text>
<text x="112.5" y="74.0" font-size="22.4" text-anchor="start" xml:space="preserve">Temperature z=4000m</text>
<text x="449.5" y="77.7" font-size="22.4" text-anchor="start" xml:space="preserve">mean=</text>
<text x="577.5" y="77.7" font-size="22.4" text-anchor="end" xml:space="preserve">0.55</text>
<text x="915.5" y="74.0" font-size="22.4" text-anchor="end" xml:space="preserve">degC</text>
<text x="946" y="142.4" font-size="19.8" text-anchor="start" xml:space="preserve">Min =</text>
<text x="1051" y="142.4" font-size="19.8" text-anchor="end" xml:space="preserve">-1.33</text>
<text x="1057" y="142.4" font-size="19.8" text-anchor="start" xml:space="preserve">Max =</text>
<text x="1165.5" y="142.4" font-size="19.8" text-anchor="end" xml:space="preserve">4.90</text>
<rect x="1025.3" y="176.20" width="33.5" height="15.06" fill="#67001f" stroke="#000" stroke-width="1"/>
<rect x="1025.3" y="191.26" width="33.5" height="15.06" fill="#a51a2a" stroke="#000" stroke-width="1"/>
<rect x="1025.3" y="206.32" width="33.5" height="15.06" fill="#d7302a" stroke="#000" stroke-width="1"/>
<rect x="1025.3" y="221.39" width="33.5" height="15.06" fill="#e8523a" stroke="#000" stroke-width="1"/>
<rect x="1025.3" y="236.45" width="33.5" height="15.06" fill="#f46d43" stroke="#000" stroke-width="1"/>
<rect x="1025.3" y="251.51" width="33.5" height="15.06" fill="#f98e52" stroke="#000" stroke-width="1"/>
<rect x="1025.3" y="266.57" width="33.5" height="15.06" fill="#fdae61" stroke="#000" stroke-width="1"/>
<rect x="1025.3" y="281.63" width="33.5" height="15.06" fill="#fdc778" stroke="#000" stroke-width="1"/>
<rect x="1025.3" y="296.70" width="33.5" height="15.06" fill="#fee090" stroke="#000" stroke-width="1"/>
<rect x="1025.3" y="311.76" width="33.5" height="15.06" fill="#feeda6" stroke="#000" stroke-width="1"/>
<rect x="1025.3" y="326.82" width="33.5" height="15.06" fill="#ffffbf" stroke="#000" stroke-width="1"/>
<rect x="1025.3" y="341.88" width="33.5" height="15.06" fill="#eef8df" stroke="#000" stroke-width="1"/>
<rect x="1025.3" y="356.94" width="33.5" height="15.06" fill="#e0f3f8" stroke="#000" stroke-width="1"/>
<rect x="1025.3" y="372.00" width="33.5" height="15.06" fill="#c6e6f0" stroke="#000" stroke-width="1"/>
<rect x="1025.3" y="387.07" width="33.5" height="15.06" fill="#abd9e9" stroke="#000" stroke-width="1"/>
<rect x="1025.3" y="402.13" width="33.5" height="15.06" fill="#90c3dd" stroke="#000" stroke-width="1"/>
<rect x="1025.3" y="417.19" width="33.5" height="15.06" fill="#74add1" stroke="#000" stroke-width="1"/>
<rect x="1025.3" y="432.25" width="33.5" height="15.06" fill="#5d91c1" stroke="#000" stroke-width="1"/>
<rect x="1025.3" y="447.31" width="33.5" height="15.06" fill="#4575b4" stroke="#000" stroke-width="1"/>
<rect x="1025.3" y="462.38" width="33.5" height="15.06" fill="#3b4d93" stroke="#000" stroke-width="1"/>
<rect x="1025.3" y="477.44" width="33.5" height="15.06" fill="#31246a" stroke="#000" stroke-width="1"/>
<text x="1079.8" y="212.2" font-size="16.3" text-anchor="middle" xml:space="preserve">7</text>
<text x="1079.8" y="242.3" font-size="16.3" text-anchor="middle" xml:space="preserve">6</text>
<text x="1079.8" y="272.4" font-size="16.3" text-anchor="middle" xml:space="preserve">5</text>
<text x="1079.8" y="302.5" font-size="16.3" text-anchor="middle" xml:space="preserve">4</text>
<text x="1079.8" y="332.7" font-size="16.3" text-anchor="middle" xml:space="preserve">3</text>
<text x="1079.8" y="362.8" font-size="16.3" text-anchor="middle" xml:space="preserve">2</text>
<text x="1079.8" y="392.9" font-size="16.3" text-anchor="middle" xml:space="preserve">1</text>
<text x="1079.8" y="423.0" font-size="16.3" text-anchor="middle" xml:space="preserve">0</text>
<text x="1079.8" y="453.1" font-size="16.3" text-anchor="middle" xml:space="preserve">-1</text>
<text x="1079.8" y="483.3" font-size="16.3" text-anchor="middle" xml:space="preserve">-2</text>
</g>
<g id="panel2">
<rect x="112.0" y="604.9" width="803.0" height="402.1" fill="#c0c0c0"/>
<g transform="translate(0,506.3)" clip-path="url(#frame)"><g shape-rendering="crispEdges"><g clip-path="url(#mask)"><rect x="112" y="98" width="803" height="403" fill="#90c3dd"/><path d="M112,98 915,98 915,121 112,121Z" fill="#5d91c1"/><path d="M112,185.6 137,185.6 137,183.1 147.8,183.1 146.1,190.6 150.3,198.9 147.8,205.6 149.5,212.2 147,214.7 142.8,212.2 140.3,207.2 141.1,202.2 137,198.9 130.3,197.3 122,196.4 112,198.4Z" fill="#74add1"/><path d="M217.7,210.6 232.7,210.6 235.2,221.4 241.1,222.2 241.1,232.2 235.2,227.2 231.1,218.9 226.9,214.7Z" fill="#74add1"/><path d="M834.8,220.6 834.8,208.9 838.9,206.4 877.2,181.4 883.1,184.8 886.4,189.8 888.1,195.6 890.6,198.9 893.1,207.2 887.2,205.6 880.6,209.7 870.6,208.9 860.6,210.6 847.3,213.1 838.9,218.1Z" fill="#74add1"/><path d="M893.1,183.9 915.5,186.4 915.5,198.9 908.9,197.3 900.5,194.8 897.2,192.3Z" fill="#74add1"/><path d="M281,317.1 297.2,317.1 297.2,334.2 281,334.2Z" fill="#abd9e9"/><path d="M276.9,338.2 303.5,335.4 308.5,337.9 326.8,337.6 326.8,352.1 276.9,352.1Z" fill="#abd9e9"/><path d="M328.5,332.9 333.5,328.8 339.3,332.1 339.3,336.2 334.3,340.4 328.5,344.2Z" fill="#abd9e9"/><path d="M346,358.7 353.5,358.7 353.5,367.9 346,367.9Z" fill="#abd9e9"/><path d="M347.6,158.1 540.8,158.1 540.8,266.3 471.7,266.3 465.9,270 457.6,271.6 449.2,268.3 442.6,264.6 434.2,263.8 425.9,266.3 420.9,266.3 416.8,260.5 409.3,266.3 399.3,267.1 386.8,265.5 347.6,265.5Z" fill="#feeda6"/><path d="M347.6,265.5 386.8,265.5 399.3,267.1 409.3,266.3 416.8,260.5 420.9,266.3 425.9,266.3 434.2,263.8 442.6,264.6 449.2,268.3 457.6,271.6 465.9,270 471.7,266.3 540.8,266.3 540.8,279.6 472.5,278.8 459.2,285.5 454.2,287.1 450.1,284.6 442.6,291.3 435.9,299.6 429.2,298.8 415.9,299.6 347.6,299.6Z" fill="#ffffbf"/><path d="M415.9,299.6 429.2,298.8 435.9,299.6 442.6,291.3 450.1,284.6 454.2,287.1 459.2,285.5 472.5,278.8 540.8,279.6 540.8,293.3 469.2,293.8 480,306.3 476.7,314.9 470.9,313.3 459.2,308.3 440.9,306.3 415.9,306.3Z" fill="#eef8df"/><path d="M425.9,306.3 440.9,306.3 459.2,308.3 470.9,313.3 476.7,314.9 480,306.3 469.2,293.8 540.8,293.3 540.8,349.6 517.5,349.6 517.5,375.4 425.9,375.4Z" fill="#e0f3f8"/><path d="M497.5,316.3 505,313.8 520.8,315.4 525.8,311.3 531.7,319.6 534.2,332.9 530.8,342.9 525.8,346.2 519.2,356.2 515.8,367.1 509.2,377.9 490.9,377.9 490.9,326.3Z" fill="#c6e6f0"/><path d="M430.1,362.1 432.6,356.2 435.9,353.7 450.1,352.9 450.9,357.1 442.6,358.7 435.9,362.1Z" fill="#c6e6f0"/><path d="M492.5,323.8 499.2,323.8 499.2,328.8 492.5,328.8Z" fill="#c6e6f0"/><path d="M343.5,266.3 348.5,266.3 348.5,271.3 343.5,271.3Z" fill="#fdae61"/><path d="M362.1,262.1 368.5,262.1 368.5,273 362.1,273Z" fill="#fdae61"/><path d="M371.8,218.5 381.1,212.9 392.3,209.7 394.8,209.1 399.8,210.4 409.8,210.4 409.8,202.3 414.8,200.4 416.6,197.9 419.7,197.9 419.7,202.3 427.8,202.3 427.8,204.8 435.3,204.8 435.3,209.1 429.7,210.4 429.7,212.9 424.7,214.7 422.2,219.1 417.2,220.9 414.8,225.3 410.4,230.3 409.2,245.9 405.4,245.9 404.8,235.3 402.3,228.4 387.4,224.1 374.9,220.9Z" fill="#fee090"/><path d="M361.8,214.7 361.8,211.6 367.4,211.6 369.9,209.1 374.9,209.1 374.9,206.6 379.9,204.8 393,204.8 393,207.9 381.1,211 372.4,216 367.4,215.3Z" fill="#fee090"/><path d="M411.6,182.3 415.4,182.3 419.7,186.7 424.7,188.6 432.2,188.6 432.2,186.7 435.9,186.7 439.7,191.7 439.7,194.2 435.9,196.7 432.2,197.3 430.3,199.8 430.3,203.5 426.6,203.5 426.6,199.8 420.4,198.5 420.4,194.2 417.2,191.7 414.1,187.9 411.6,184.8Z" fill="#fee090"/><path d="M430.9,186.7 435.9,186.7 439.7,191.7 439.7,194.2 435.9,196.7 431.6,196 432.8,191.7Z" fill="#fdc778"/><path d="M427.2,197.9 430.3,197.9 430.3,203.5 427.2,203.5Z" fill="#fdc778"/><path d="M462.1,184.8 477.6,184.8 477.6,189.2 482,191.7 484.5,193.5 497.6,195.4 497.6,199.2 487,199.2 485.1,197.3 484.5,201 484.5,205.4 488.2,209.1 488.2,214.1 480.8,214.7 472,210.4 471.4,205.4 467.7,202.9 466.4,197.9 462.1,196Z" fill="#fee090"/><path d="M462.1,189.2 467.1,189.2 467.1,184.8 477.6,184.8 477.6,188.6 473.3,189.8 468.3,193.5 467.7,198.5 462.1,196Z" fill="#fdc778"/><path d="M415.4,260.2 417.9,262 419.7,268.9 427.2,266.6 437.2,264.5 449.6,266.4 457.1,270.4 467.1,269.1 470.2,273.9 415.4,273.9Z" fill="#ffffbf"/><path d="M386.7,267 391.1,268.9 399.8,271.4 405.4,273.9 386.7,273.9Z" fill="#ffffbf"/><path d="M500.9,394.5 505.9,387 510.8,386.2 515.8,383.7 540.8,383.7 540.8,392.8 528.3,394.5 518.3,389.5 509.2,390.3 505.9,394.5Z" fill="#abd9e9"/><path d="M406.8,423.6 540,418.6 580,417 639.9,416.1 648.2,423.6 656.6,430.3 679.1,431.1 679.1,466.9 406.8,466.9Z" fill="#5d91c1"/><path d="M633.3,367 679.1,367 679.1,388.6 673.2,394.5 656.6,402 649.9,405.3 649.1,412 656.6,415.3 662.4,417 669.1,419.5 669.1,424.5 661.6,430.3 654.9,428.6 646.6,422 641.6,413.6 632.4,413.6 630.8,417 617.4,412 618.3,408.6 636.6,408.6 639.1,406.1 638.3,398.6 634.9,394.5 634.9,386.2 639.9,382.8 646.6,375.3Z" fill="#74add1"/><path d="M668.2,388.6 667.4,391 665,393.1 661.4,394.7 656.7,395.8 651.6,396.1 646.4,395.8 641.8,394.7 638.1,393.1 635.7,391 634.9,388.6 635.7,386.3 638.1,384.2 641.8,382.6 646.4,381.5 651.6,381.2 656.7,381.5 661.4,382.6 665,384.2 667.4,386.3Z" fill="#90c3dd"/><path d="M659.9,389 659.4,389.9 658,390.6 655.8,391.3 653,391.7 649.9,391.8 646.8,391.7 644,391.3 641.8,390.6 640.4,389.9 639.9,389 640.4,388.1 641.8,387.3 644,386.7 646.8,386.3 649.9,386.2 653,386.3 655.8,386.7 658,387.3 659.4,388.1Z" fill="#abd9e9"/><path d="M543.3,400.3 560,404.5 581.6,399.5 581.6,412 561.6,412 543.3,410.3Z" fill="#74add1"/><path d="M580,417 581.6,412 599.1,408.6 610.8,408.6 610.8,411.1 600,412 597.5,417Z" fill="#74add1"/><path d="M548.3,385.3 566.6,383.7 565,393.6 550,393.6Z" fill="#abd9e9"/><path d="M623.3,366.2 642.4,366.2 642.4,378.7 623.3,378.7Z" fill="#abd9e9"/><path d="M694.9,415.3 754.8,422 754.8,441.1 694.9,441.1Z" fill="#5d91c1"/><path d="M696.5,407.8 723.2,413.6 723.2,415.6 696.5,417Z" fill="#74add1"/><path d="M714,366.2 754.8,366.2 754.8,396.1 714,396.1Z" fill="#abd9e9"/><path d="M753.2,366.2 837.3,366.2 837.3,409.5 753.2,409.5Z" fill="#abd9e9"/><path d="M753.2,417 842.3,417 842.3,441.1 753.2,441.1Z" fill="#5d91c1"/><path d="M770.7,420.6 779.8,416.6 781.5,414.1 789,412.5 795.6,413.3 797.3,416.6 804,420 812.3,423.3 820.6,425 825.6,429.1 828.9,432.8 820.6,428.3 812.3,426.5 797.3,424.8 787.3,424 779,420 774,422Z" fill="#74add1"/><path d="M853.1,413.6 863.9,417 863.1,425 853.1,419.5Z" fill="#74add1"/><path d="M870.6,421.1 915.5,413.6 915.5,429.4 895.5,429.9 878.9,428.6 870.6,426.1Z" fill="#74add1"/><path d="M878.1,428.9 895.5,430.3 915.5,429.8 915.5,438.6 878.1,438.6Z" fill="#5d91c1"/><path d="M112,415.3 121.2,414.5 121.2,407 132,407 150.3,410.3 167,415.3 180.3,417.8 178.6,419 167,419 161.1,422.8 160.3,429.4 112,429.4Z" fill="#74add1"/><path d="M112,428.9 152,428.9 150.3,432.8 146.1,435.3 142,432.8 112,436.1Z" fill="#5d91c1"/><path d="M112,450.3 162,444.4 191.9,437.8 201.9,431.1 228.6,430.3 231.1,423.6 271.9,417 326.8,417 326.8,466.9 112,466.9Z" fill="#4575b4"/><path d="M271.9,383.7 326.8,383.7 326.8,427.3 295.2,424 273.5,420 271.9,417Z" fill="#5d91c1"/><path d="M325.2,407 361.8,407 361.8,430.3 325.2,430.3Z" fill="#5d91c1"/><path d="M325.2,426.1 351,427.3 361.8,429.4 361.8,452.8 325.2,452.8Z" fill="#4575b4"/><path d="M386,372 489.2,372 489.2,431.9 386,431.9Z" fill="#74add1"/><path d="M397.6,390.3 402.6,382 412.6,376.2 414.3,372 429.2,372 439.2,375.3 448.4,380.3 465.9,384.5 468.4,401.1 471.7,407.8 467.5,408.6 459.2,405.3 445.9,402 432.6,399.5 419.3,397 409.3,394.5 400.9,393.6Z" fill="#90c3dd"/><path d="M409.3,388.6 412.6,378.7 415.9,372 429.2,372 439.2,375.3 448.4,380.3 465.9,384.5 468.4,400.3 465.9,404.5 459.2,402 445.9,397 432.6,394.5 419.3,392 412.6,391.1Z" fill="#abd9e9"/><path d="M420.9,383.7 421.8,377 425.9,373.7 432.6,374.5 437.6,380.3 440.9,388.6 440.1,394.5 432.6,392 425.9,389.5Z" fill="#c6e6f0"/><path d="M459.2,410.6 470.9,407 488.4,422 488.4,431.9 460.1,431.9 459.2,422 467.5,425.3 467.5,420.3 463.4,416.1Z" fill="#5d91c1"/><path d="M450.9,366.2 473.4,366.2 473.4,375.3 450.9,375.3Z" fill="#e0f3f8"/><path d="M443.4,380.3 449.2,380.3 449.2,386.2 443.4,386.2Z" fill="#e0f3f8"/><path d="M453.4,381.2 465.9,381.2 465.9,388.6 453.4,388.6Z" fill="#eef8df"/><path d="M609.9,258 781.5,258 781.5,366.2 609.9,366.2Z" fill="#abd9e9"/><path d="M611.6,278 661.6,278 661.6,317.9 611.6,317.9Z" fill="#c6e6f0"/><path d="M654.1,364.2 674.1,364.2 674.1,367.9 654.1,367.9Z" fill="#74add1"/><path d="M783.1,288 793.1,288 793.1,296.3 783.1,296.3Z" fill="#eef8df"/><path d="M899.7,351.2 912.2,351.2 912.2,359.6 899.7,359.6Z" fill="#c6e6f0"/><path d="M846.4,327.1 856.4,327.1 856.4,333.7 846.4,333.7Z" fill="#abd9e9"/><path d="M877.2,324.6 883.9,324.6 883.9,328.8 877.2,328.8Z" fill="#abd9e9"/><path d="M875.6,333.7 879.7,333.7 879.7,337.9 875.6,337.9Z" fill="#abd9e9"/></g><use href="#holes"/><path d="M771,327.4 778.1,327.4 778.1,334.5 771,334.5ZM757.6,347.6 762.9,347.6 762.9,350.4 757.6,350.4ZM906.4,261 910.5,261 910.5,264.3 906.4,264.3Z" fill="#90c3dd"/></g><use href="#coast"/></g>
<rect x="112.0" y="604.9" width="803.0" height="402.1" fill="none" stroke="#000" stroke-width="1.6"/>
<text x="513.5" y="540.5999999999999" font-size="27.8" text-anchor="middle" xml:space="preserve">NHISTfrc2_f09_tn14_20191001 (yrs 1945-1949)</text>
<text x="112.5" y="580.3" font-size="22.4" text-anchor="start" xml:space="preserve">Temperature z=4000m</text>
<text x="449.5" y="584.0" font-size="22.4" text-anchor="start" xml:space="preserve">mean=</text>
<text x="577.5" y="584.0" font-size="22.4" text-anchor="end" xml:space="preserve">0.55</text>
<text x="915.5" y="580.3" font-size="22.4" text-anchor="end" xml:space="preserve">degC</text>
<text x="946" y="648.6999999999999" font-size="19.8" text-anchor="start" xml:space="preserve">Min =</text>
<text x="1051" y="648.6999999999999" font-size="19.8" text-anchor="end" xml:space="preserve">-1.32</text>
<text x="1057" y="648.6999999999999" font-size="19.8" text-anchor="start" xml:space="preserve">Max =</text>
<text x="1165.5" y="648.6999999999999" font-size="19.8" text-anchor="end" xml:space="preserve">4.90</text>
<rect x="1025.3" y="682.50" width="33.5" height="15.06" fill="#67001f" stroke="#000" stroke-width="1"/>
<rect x="1025.3" y="697.56" width="33.5" height="15.06" fill="#a51a2a" stroke="#000" stroke-width="1"/>
<rect x="1025.3" y="712.62" width="33.5" height="15.06" fill="#d7302a" stroke="#000" stroke-width="1"/>
<rect x="1025.3" y="727.69" width="33.5" height="15.06" fill="#e8523a" stroke="#000" stroke-width="1"/>
<rect x="1025.3" y="742.75" width="33.5" height="15.06" fill="#f46d43" stroke="#000" stroke-width="1"/>
<rect x="1025.3" y="757.81" width="33.5" height="15.06" fill="#f98e52" stroke="#000" stroke-width="1"/>
<rect x="1025.3" y="772.87" width="33.5" height="15.06" fill="#fdae61" stroke="#000" stroke-width="1"/>
<rect x="1025.3" y="787.93" width="33.5" height="15.06" fill="#fdc778" stroke="#000" stroke-width="1"/>
<rect x="1025.3" y="803.00" width="33.5" height="15.06" fill="#fee090" stroke="#000" stroke-width="1"/>
<rect x="1025.3" y="818.06" width="33.5" height="15.06" fill="#feeda6" stroke="#000" stroke-width="1"/>
<rect x="1025.3" y="833.12" width="33.5" height="15.06" fill="#ffffbf" stroke="#000" stroke-width="1"/>
<rect x="1025.3" y="848.18" width="33.5" height="15.06" fill="#eef8df" stroke="#000" stroke-width="1"/>
<rect x="1025.3" y="863.24" width="33.5" height="15.06" fill="#e0f3f8" stroke="#000" stroke-width="1"/>
<rect x="1025.3" y="878.30" width="33.5" height="15.06" fill="#c6e6f0" stroke="#000" stroke-width="1"/>
<rect x="1025.3" y="893.37" width="33.5" height="15.06" fill="#abd9e9" stroke="#000" stroke-width="1"/>
<rect x="1025.3" y="908.43" width="33.5" height="15.06" fill="#90c3dd" stroke="#000" stroke-width="1"/>
<rect x="1025.3" y="923.49" width="33.5" height="15.06" fill="#74add1" stroke="#000" stroke-width="1"/>
<rect x="1025.3" y="938.55" width="33.5" height="15.06" fill="#5d91c1" stroke="#000" stroke-width="1"/>
<rect x="1025.3" y="953.61" width="33.5" height="15.06" fill="#4575b4" stroke="#000" stroke-width="1"/>
<rect x="1025.3" y="968.68" width="33.5" height="15.06" fill="#3b4d93" stroke="#000" stroke-width="1"/>
<rect x="1025.3" y="983.74" width="33.5" height="15.06" fill="#31246a" stroke="#000" stroke-width="1"/>
<text x="1079.8" y="718.5" font-size="16.3" text-anchor="middle" xml:space="preserve">7</text>
<text x="1079.8" y="748.6" font-size="16.3" text-anchor="middle" xml:space="preserve">6</text>
<text x="1079.8" y="778.7" font-size="16.3" text-anchor="middle" xml:space="preserve">5</text>
<text x="1079.8" y="808.8" font-size="16.3" text-anchor="middle" xml:space="preserve">4</text>
<text x="1079.8" y="839.0" font-size="16.3" text-anchor="middle" xml:space="preserve">3</text>
<text x="1079.8" y="869.1" font-size="16.3" text-anchor="middle" xml:space="preserve">2</text>
<text x="1079.8" y="899.2" font-size="16.3" text-anchor="middle" xml:space="preserve">1</text>
<text x="1079.8" y="929.3" font-size="16.3" text-anchor="middle" xml:space="preserve">0</text>
<text x="1079.8" y="959.4" font-size="16.3" text-anchor="middle" xml:space="preserve">-1</text>
<text x="1079.8" y="989.6" font-size="16.3" text-anchor="middle" xml:space="preserve">-2</text>
</g>
<g id="panel3">
<rect x="112.0" y="1110.9" width="803.0" height="402.1" fill="#c0c0c0"/>
<g transform="translate(0,1012.3)" clip-path="url(#frame)"><g shape-rendering="crispEdges"><path d="M112,186.5 137,186.5 137,184 146.1,184 146.1,181.5 157,181.5 157,178.6 177.8,178.6 177.8,183.6 186.1,183.6 186.1,175.6 191.1,175.6 191.1,188.6 198.6,188.6 200.3,193.3 211.4,193.3 211.4,208.6 213.9,211.4 231.9,211.4 234.4,222.3 240.2,222.3 240.2,232.8 112,232.8ZM179.4,173.6 181.9,173.6 181.9,176.1 179.4,176.1ZM454.2,100 540,100 540,104.5 525.8,104.5 525.8,106.2 513.3,106.2 513.3,108.4 507.5,108.4 507.5,106.2 463.4,106.2 463.4,103.7 454.2,103.7ZM540,100 754,100 754,106.7 717.4,106.7 717.4,104.5 679.1,104.5 679.1,102.4 608.3,102.4 608.3,104.5 540,104.5ZM561.3,110.7 568,110.7 568,113.4 561.3,113.4ZM572.5,110.7 581.6,110.7 581.6,113.4 572.5,113.4ZM754,103.4 760.7,103.4 760.7,106.2 782.3,106.2 787.3,107.9 812.3,108.7 816.4,111.2 816.4,113.7 810.6,115.4 798.1,115.4 798.1,113.4 787.3,112.9 787.3,111.2 781.5,110.4 781.5,108.7 754,107.9ZM350,222.5 352.5,222.5 352.5,220 357.5,220 357.5,216.9 362.5,216.9 362.5,211.9 367.4,211.9 369.9,209.4 374.9,209.4 374.9,206.9 379.9,205.1 392.3,205.1 392.3,206.9 394.8,208.8 399.8,210.1 409.8,210.1 409.8,202.6 414.8,200.7 416.6,198.2 419.1,198.2 419.1,202.6 427.2,202.6 427.2,205.1 434.7,205.1 434.7,208.8 429.7,210.1 429.7,212.6 424.7,214.4 422.2,218.8 417.2,220.6 414.8,225 409.8,230 409.8,239.9 407.3,242.4 407.3,247.4 404.8,252.4 404.8,259.9 399.8,264.9 399.8,267.3 404.8,269.2 408.5,272.7 389.9,272.7 387.4,271.1 384.9,267.3 382.4,262.4 378.6,257.4 367.4,254.9 362.5,252.4 357.5,247.4 352.5,244.9 350,242.4ZM363.1,262.4 367.4,262.4 367.4,272.7 363.1,272.7ZM412.3,182.7 414.8,182.7 419.7,187 424.7,188.9 432.2,188.9 432.2,187 435.3,187 439,191.4 439,193.2 435.9,195.7 432.2,196.4 429.7,198.9 429.7,202.6 427.2,202.6 427.2,198.9 421,197.6 421,193.9 417.9,191.4 414.8,187.6 412.3,184.5ZM462.7,189.5 467.7,189.5 467.7,185.2 477,185.2 477,188.9 482,191.4 484.5,193.9 496.9,195.7 496.9,198.2 487,198.2 484.5,196.4 483.9,200.7 483.9,205.1 487.6,208.8 487.6,213.2 480.8,213.8 478.3,216.3 474.5,218.8 474.5,222.5 470.2,223.8 470.2,230 474.5,231.2 474.5,233.7 470.2,235 468.3,239.9 468.3,243.7 466.4,252.4 459.6,254.9 455.2,257.4 455.2,268.6 459.6,269.8 465.8,268.6 469.6,272.7 419.7,272.7 419.7,268.6 416,264.9 416,261.1 418.5,259.9 418.5,244.9 422.2,242.4 423.5,237.5 429.7,235 437.2,231.2 439.7,229.4 448.4,229.4 448.4,235 453.4,235 455.9,232.5 455.9,222.5 462.1,220 464.6,218.8 464.6,213.8 462.7,212.6 469.6,211.3 472,208.8 472,205.1 478.9,204.5 478.9,201.3 468.3,202 467.1,197.6 462.7,195.1ZM816.4,230.3 820.9,230.3 820.9,232.9 816.4,232.9ZM816.4,231.9 821.1,231.9 821.1,243.5 816.4,243.5ZM829.3,232.8 829.3,222.8 832.3,222.8 835.6,219.4 835.6,209.4 838.9,206.9 842.3,204.4 847.3,201.9 852.3,198.6 857.2,195.3 862.2,192 867.2,188.6 872.2,185.3 877.2,182.8 915,182.8 915,232.8ZM113.3,232.7 240.2,232.7 240.2,235.2 245.2,235.2 245.2,245.2 251.1,246 251.1,249.4 245.2,249.4 245.2,257.7 240.2,258.5 240.2,264.3 246.9,266.8 261.9,268.5 262.7,274.3 253.5,275.2 253.5,280.2 258.5,286 266.9,287.7 266.9,290.2 258.5,291 251.9,295.1 251.9,298.5 262.7,299.3 266.9,304.3 266.9,307.6 261.9,309.3 258.5,314.3 253.5,319.3 250.2,323.5 241.9,319.3 230.2,319.3 227.7,323.5 227.7,327.6 218.6,328.5 218.6,331 228.6,332.6 228.6,345.1 220.2,343.4 218.6,339.3 211.9,339.3 211.1,334.3 204.4,331 181.9,331 181.9,328 174.4,328 174.4,332.6 167,332.6 168.6,339.3 170.3,344.3 183.6,344.3 185.3,340.9 193.6,340.9 194.4,347.6 205.3,347.6 211.9,352.6 218.6,357.6 218.6,366.8 113.3,366.8ZM231.1,327.6 234.4,327.6 234.4,331 231.1,331ZM283.5,323.5 286.9,318.5 296,318.5 296,324.3 291.9,330.1 286,332.6 281.9,329.3ZM297.7,271.8 305.2,269.7 305.2,274.3 298.5,276.8ZM302.4,317.6 307.4,312.6 313.3,312.3 318.3,314.3 328.2,314.3 331.6,316.8 334.9,322.6 338.2,327.6 338.2,332.6 334.9,336.8 329.9,340.9 323.2,342.6 323.2,347.6 319.9,350.1 301.6,350.1 299.9,347.6 294.9,346.8 293.3,349.3 282.4,349.3 281.6,344.3 278.3,343.4 278.3,340.9 286.6,340.9 286.6,338.4 299.9,338.4 301.6,342.6 306.6,342.6 306.6,336.8 302.4,336.8 302.4,333.4 310.8,332.6 315.8,331 315.8,327.6 310.8,326 309.1,320.1 302.4,319.3ZM334.9,364.3 338.2,364.3 338.2,366.8 334.9,366.8ZM326,312.6 330.2,314.3 332.7,321 334.3,326 338.5,332.6 338.5,335.1 334.3,339.3 329.3,342.6 326,343.4ZM333.5,352.6 338.5,347.6 342.7,343.4 346.8,340.1 349.3,339.3 352.6,343.4 353.5,347.6 349.3,349.3 346.8,352.6 341.8,355.9 336,357.6ZM346.8,360.9 351.8,359.3 352.6,366.8 347.6,366.8ZM333.5,364.3 336,364.3 336,366.8 333.5,366.8ZM344.3,266.8 347.6,266.8 347.6,270.2 344.3,270.2ZM363,262.7 367.6,262.7 367.6,271.8 363,271.8ZM416.3,252.7 465.4,252.7 458.8,256 455,257.1 455,263.6 457.2,269 465.4,269 468.1,267.4 471.9,272.3 471.9,277.8 465.4,278.8 461,281.6 457.2,284.3 457.2,286.5 461,287.6 463.2,293 469.7,293 471.9,289.7 474.1,288.6 474.1,284.3 471.9,281 478.4,281 483.9,285.4 492.6,291.9 492.6,294.1 512.2,294.1 512.2,291.9 518.7,291.9 522,294.1 522,305 529.6,306.1 531.8,313.7 536.2,318.1 536.2,339.7 504.6,339.7 504.6,324.1 499.1,323.5 496.9,327.9 492.6,327.9 492.6,325.7 498.6,322.4 498.6,313.7 496.4,311.5 496.4,306.1 492.6,303.9 492.6,299.5 482.8,296.8 471.9,296.8 471.9,303.9 478.4,305 478.4,313.7 472.4,317 472.4,322.4 475.2,326.8 475.2,334.4 470.8,339.7 438.1,339.7 434.3,334.4 434.3,331.1 438.1,327.9 438.1,323.5 440.8,320.2 440.8,311.5 444.7,309.3 444.7,306.1 440.3,305 434.9,300.6 429.4,299.5 416.3,296.3 416.3,294.6 424.5,293 424.5,290.3 418.5,287.6 410.3,285.4 410.3,282.1 401.1,278.8 400,277.8 400,267.4 403.3,269 410.9,272.3 413.1,275.6 419.6,277.8 421.8,282.1 431.6,284.3 434.9,286.5 432.7,289.7 434.9,296.3 440.3,299.5 450.1,302.8 469.7,302.8 469.7,299.5 464.3,296.3 456.6,294.1 452.3,289.7 444.7,281.6 432.7,281 431.6,277.2 422.3,272.9 420.2,266.9 416.3,264.7ZM400,252.7 405.4,252.7 405.4,260.3 400,263.6ZM435.9,329.3 472.5,331 470.9,339.3 480,345.9 480,347.6 472.5,357.6 472.5,366.8 452.6,366.8 452.6,361.8 430.1,361.8 430.1,359.3 432.6,355.9 434.2,350.1 442.6,349.3 442.6,344.3 439.2,343.4 439.2,337.6 434.2,333.4ZM505,329.3 535.8,331 532.5,342.6 525.8,345.9 519.2,355.9 515.8,366.8 500.9,366.8 497.5,364.3 492.5,355.9 494.2,349.3 499.2,342.6 499.2,339.3 505,334.3ZM530.8,359.3 540,349.3 540,366.8 530.8,366.8ZM648.2,266.8 651.6,265.2 656.6,267.7 666.6,267.7 669.1,272.7 670.7,281 670.7,287.7 660.7,287.7 656.6,282.7 653.2,279.3 649.1,274.3 646.6,271.8ZM671.1,289.8 673.6,289.8 673.6,292.3 671.1,292.3ZM630.8,281 635.8,279.3 639.9,282.7 643.2,287.7 649.9,294.3 656.6,301 657.4,306 659.9,309.3 659.1,314.3 655.7,314.3 654.9,306 646.6,306 639.9,303.5 633.3,306 629.9,311 623.3,312.6 613.3,316.8 613.3,309.3 616.6,304.3 621.6,299.3 624.9,296 629.9,289.3 630.8,284.3ZM630.8,323.5 636.6,322.6 644.1,326 644.1,331 641.6,333.4 640.7,340.9 644.1,343.4 646.6,347.6 649.9,345.9 654.9,351.8 659.9,353.4 659.9,356.8 654.9,359.3 653.2,366.8 629.9,366.8 628.3,355.9 624.9,349.3 627.4,342.6 629.9,335.9 630.8,329.3ZM599.1,360.9 603.3,358.9 609.1,359.3 609.1,366.8 599.1,366.8ZM696.5,286 706.5,285.2 711.5,290.2 711.5,316 706.5,319.3 705.7,329.3 702.4,332.6 706.5,339.3 705.7,355.9 701.5,360.9 695.7,366.8 688.2,366.8 684.9,357.6 679.9,352.6 674.9,345.9 671.6,339.3 671.6,335.9 674.9,331 678.2,322.6 679.1,304.3 684.9,298.5 690.7,291ZM720.7,293.5 724,294.3 729.8,302.6 736.5,311 742.3,316 749,319.3 748.2,323.5 742.3,328.5 754,323.5 754,366.8 716.5,366.8 714,352.6 716.5,349.3 714.9,316 716.5,306ZM743.9,365.1 758.2,365.1 758.2,381.2 743.9,381.2ZM789,251 798.1,249.4 801.5,242.7 804.8,242.7 804.8,249.4 812.3,249.4 815.6,244.4 819.8,242.7 820.6,246.9 825.6,249.4 827.3,271 823.9,272.7 823.9,276.8 812.3,276.8 811.5,282.7 807.3,289.3 802.3,289.3 799,282.7 798.1,272.7 797.3,259.3 789,258.5ZM832.3,232.7 833.9,238.5 839.8,239.4 840.6,247.7 844.8,251 845.6,254.3 853.9,255.2 855.6,260.2 846.4,259.3 844.8,266.8 840.6,271.8 838.9,274.3 847.3,276.8 857.2,279.3 864.7,282.7 876.4,281 878.9,289.3 878.9,298.5 881.4,305.1 887.2,304.3 892.2,301.8 897.2,306 900.5,311 900.5,314.3 893.9,316 893.9,321 903.9,322.6 911.4,322.6 912.2,315.1 915,314.3 915,232.7ZM828.9,273.5 833.9,273.5 833.9,276.8 828.9,276.8ZM815.6,286 819.8,284.3 827.3,287.7 827.3,292.7 822.3,296.8 818.9,297.6 813.1,296 815.6,291ZM838.1,287.7 840.6,291 848.9,291.8 852.3,287.7 855.6,289.3 855.6,296 853.9,301 848.9,299.3 840.6,296.8 836.4,294.3ZM787.3,288.5 792.3,288.5 792.3,294.3 784,295.1ZM769,265.2 776.5,265.2 776.5,272.7 769,272.7ZM847.3,327.6 855.6,327.6 855.6,332.6 847.3,332.6ZM878.1,325.1 883.1,325.1 883.1,327.6 878.1,327.6ZM876.4,334.3 878.9,334.3 878.9,336.8 876.4,336.8ZM900.5,351.8 911.4,351.8 911.4,358.4 900.5,358.4ZM754,323.5 758.2,323.5 758.2,328.5 754,328.5ZM769,326 779.8,326 779,333.4 770.7,334.3ZM754,332.6 764,331 764,337.6 759,340.9 760.7,345.9 754,347.6ZM757.3,347.6 762.3,347.6 762.3,350.1 757.3,350.1ZM754,364.3 760.7,364.3 760.7,366.8 754,366.8ZM908,365.1 915,365.1 915,366.8 908,366.8ZM122,366.7 218.6,366.7 218.6,373.4 213.6,375.9 213.6,380 229.4,380.9 229.4,386.7 235.2,386.7 235.2,379.2 251.1,380.9 251.1,388.3 248.6,395 240.2,395.8 239.4,405.8 229.4,406.7 226.9,419.2 218.6,419.2 211.9,416.7 203.6,413.3 189.4,413.3 188.6,417.5 178.6,418.3 167,418.3 161.1,422.5 160.3,426.7 152.8,427.5 150.3,432.5 146.1,435 142,432.5 122,433.3 113.3,435 113.3,415 121.2,414.2 121.2,406.7 119.5,404.2 130.3,401.7 133.6,399.2 142,396.7 142,392.5 133.6,390 131.2,387.5 122,387.5 121.2,380 116.2,378.4 116.2,374.2 119.5,373.4ZM122,456.6 124.5,453.3 150.3,456.6 152.8,454.1 162,453.3 162.8,446.6 168.6,448.3 186.9,446.6 187.8,450 191.9,449.1 193.6,440 200.3,438.3 203.6,433.3 228.6,432.5 231.9,426.7 235.2,425.8 236.1,427.5 264.4,426.7 272.7,425 273.5,419.2 280.2,418.3 281,407.5 288.5,403.3 291,399.2 288.5,394.2 284.4,390 282.7,385.9 293.5,386.7 294.3,392.5 293.5,400 300.2,400 300.2,395 313.5,396.7 314.3,405.8 326,407.5 326,450.8 311,451.6 300.2,453.3 299.3,455 276,455 275.2,453.3 231.1,452.5 231.1,450.8 222.7,450.8 218.6,453.3 217.7,460 188.6,461.6 187.8,464.1 162.8,464.1 162,461.6 147,461.6 146.1,464.1 142,464.1 134.5,460 125.3,458.3ZM326,408.3 333.5,408.3 334.3,414.2 341.8,418.3 343.5,423.3 348.5,428.3 353.5,432.5 360.1,438.3 360.1,440 353.5,440 344.3,440.8 342.7,445 339.3,445.8 338.5,448.3 332.7,450 326,450.8ZM332.7,366.7 347.6,366.7 346.8,388.3 337.7,388.3 333.5,381.7 340.2,376.7 340.2,371.7 332.7,370.9ZM414.3,372.5 429.2,372.5 430.1,375 439.2,375.9 440.1,379.2 448.4,380.9 449.2,386.7 452.6,386.7 453.4,380.9 459.2,380.9 460.1,384.2 465.1,385 465.1,394.2 467.5,400.8 470.9,407.5 476.7,412.5 480.9,417.5 481.7,421.7 487.5,422.5 487.5,427.5 482.5,428.3 481.7,430.8 464.2,430.8 460.9,426.7 457.6,421.7 451.7,421.7 451.7,419.2 457.6,418.3 461.7,420 464.2,423.3 467.5,425 467.5,420 463.4,415.8 460.9,411.7 454.2,410.8 453.4,406.7 448.4,406.7 447.6,411.7 427.6,412.5 426.7,409.2 414.3,409.2 413.4,410.8 405.1,410.8 404.3,407.5 397.6,406.7 389.3,404.2 387.6,401.7 392.6,395 397.6,390 397.6,386.7 402.6,381.7 407.6,378.4 412.6,375.9ZM410.1,445.8 424.3,445 425.9,441.6 434.2,440 449.2,439.1 450.1,436.6 480.9,435.8 483.4,432.5 488.4,431.6 490,429.1 540,425 540,450 533.3,448.3 528.3,450.8 527.5,445 532.5,444.1 532.5,440.8 520,440 513.3,442.5 513.3,448.3 519.2,450 518.3,453.3 508.3,452.5 495,451.6 488.4,453.3 487.5,456.6 481.7,457.5 467.5,460 452.6,460 450.1,461.6 439.2,459.1 425.9,457.5 425.1,455 416.8,454.1 415.9,449.1 410.1,448.3ZM492.5,374.2 497.5,370 499.2,366.7 514.2,366.7 509.2,370 505.9,374.2 495.9,376.7ZM524.2,366.7 540,366.7 540,392.5 536.7,393.3 528.3,394.2 527.5,396.7 523.3,396.7 523.3,391.7 518.3,389.2 509.2,390 505.9,394.2 500.9,394.2 500.9,392.5 505.9,390 505.9,386.7 510.8,385.9 511.7,381.7 515.8,379.2 517.5,375 524.2,370.9ZM528.3,396.7 540,396.7 540,402.5 528.3,402.5ZM515,396.7 519.2,396.7 520,402.5 525,403.3 525,406.7 519.2,408.3 515,400.8ZM507.5,403.3 510,403.3 510,406.7 507.5,406.7ZM451.7,366.7 472.5,366.7 472.5,370 465.9,370.9 465.1,374.2 457.6,374.2 452.6,370ZM540,373.4 548.3,380 548.3,383.4 542.5,384.2 541.7,391.7 549.2,393.3 550,387.5 565,383.4 567.5,384.2 566.6,387.5 564.1,391.7 564.1,395.8 579.1,396.7 580,390.8 579.1,378.4 583.3,377.5 585.8,383.4 585.8,386.7 591.6,387.5 595,382.5 598.3,376.7 599.1,366.7 605.8,366.7 608.3,373.4 608.3,381.7 603.3,385.9 597.5,389.2 595,393.3 588.3,397.5 582.5,401.7 581.6,406.7 585.8,410.8 599.1,408.3 610.8,408.3 610.8,410.8 600,411.7 597.5,416.7 597.5,425 608.3,424.2 616.6,422.5 629.9,422.5 634.9,418.3 641.6,416.7 641.6,413.3 632.4,413.3 630.8,416.7 626.6,415 617.4,411.7 618.3,409.2 636.6,408.3 639.1,405.8 638.3,398.3 634.9,394.2 634.9,385.9 639.9,382.5 646.6,375 654.9,368.4 656.6,366.7 673.2,366.7 673.2,371.7 678.2,372.5 678.2,386.7 673.2,388.3 673.2,394.2 664.1,397.5 656.6,401.7 649.9,405 649.1,411.7 656.6,415 662.4,416.7 662.4,419.2 669.1,419.2 669.1,424.2 664.1,424.2 661.6,420 655.7,421.7 655.7,425.8 661.6,430 673.2,430.8 674.1,435.8 678.2,437.5 678.2,440 663.2,440 662.4,442.5 651.6,443.3 649.9,445 636.6,445 613.3,441.6 606.6,444.1 605.8,449.1 595.8,448.3 595,445 584.1,445 583.3,448.3 570,448.3 568.3,450.8 550,450.8 550,448.3 555,448.3 555,444.1 540,444.1ZM624.1,374.2 628.3,370.9 629.9,366.7 641.6,366.7 637.4,370 632.4,374.2 628.3,377.5ZM697.4,413.3 704.9,408.3 707.4,412.5 718.2,413.3 724.8,416.7 725.7,422.5 729.8,425 739.8,425 746.5,421.7 754,422.5 754,440 746.5,440 745.7,437.5 713.2,437.5 712.4,434.1 708.2,433.3 707.4,430 702.4,426.7 694.9,425.8 695.7,423.3 701.5,422.5 701.5,417.5 697.4,416.7ZM714.9,373.4 724.8,374.4 743.8,374.4 743.8,365.9 754,365.9 754,395 746.5,394.2 737.3,392.5 733.2,388.3 727.3,385 723.2,380.9 714.9,380.9ZM694.9,366.7 702.4,366.7 702.4,368.4 694.9,368.4ZM754,380.9 792.3,380.9 794,378.4 802.3,379.2 804,380.9 812.3,382.5 818.9,385.9 823.9,389.2 827.3,393.3 832.3,398.3 835.6,402.5 835.6,408.3 828.9,408.3 827.3,402.5 821.4,401.7 815.6,404.2 787.3,405.8 786.5,408.3 779,406.7 778.1,404.2 764,403.3 759.8,400.8 759.8,397.5 754,397.5ZM754,366.7 764.8,366.7 764.8,370.9 758.2,371.7 758.2,380.9 754,380.9ZM754,425 764,425 764.8,420.8 770.7,420 779.8,416.7 781.5,414.2 789,412.5 795.6,413.3 797.3,416.7 804,420 812.3,423.3 820.6,425 825.6,429.1 832.3,433.3 840.6,436.6 840.6,440 818.9,440 818.1,437.5 780.6,437.5 779.8,440 759.8,440 759,437.5 754,437.5ZM853.9,381.7 858.9,374.2 867.2,377.5 873.9,382.5 878.1,390.8 880.6,396.7 883.1,397.5 882.2,402.5 878.9,408.3 872.2,410.8 868.1,415.8 863.1,420 862.2,424.2 858.9,423.3 858.1,420.8 853.9,418.3 853.9,413.3 857.2,412.5 856.4,405 853.9,399.2 853.9,395 851.4,394.2 851.4,387.5ZM842.3,412.5 844.8,412.5 847.3,415 847.3,417.5 844.8,417.5 842.3,415ZM871.4,421.7 878.9,421.7 878.9,425.8 895.5,425.8 900.5,421.7 905.5,418.3 908.9,415 915,414.2 915,437.5 908.9,437.5 908,432.5 901.4,433.3 900.5,437.5 895.5,437.5 894.7,435 887.2,435 886.4,432.5 878.1,431.6 878.1,426.7 871.4,425.8ZM907.2,366.7 910.5,366.7 910.5,368.4 907.2,368.4Z" fill="#fff"/><use href="#holes"/><path d="M771,327.4 778.1,327.4 778.1,334.5 771,334.5ZM757.6,347.6 762.9,347.6 762.9,350.4 757.6,350.4ZM906.4,261 910.5,261 910.5,264.3 906.4,264.3Z" fill="#fff"/></g><use href="#coast"/></g>
<rect x="112.0" y="1110.9" width="803.0" height="402.1" fill="none" stroke="#000" stroke-width="1.6"/>
<text x="513.5" y="1046.6000000000001" font-size="27.58" text-anchor="middle" xml:space="preserve">NHISTfrc2NRP - NHISTfrc2_f09_tn14_20191001</text>
<text x="111" y="1090.0" font-size="22.4" text-anchor="start" xml:space="preserve">mean =</text>
<text x="246" y="1090.0" font-size="22.4" text-anchor="end" xml:space="preserve">-0.00</text>
<text x="451" y="1090.0" font-size="22.4" text-anchor="start" xml:space="preserve">rmse =</text>
<text x="577.5" y="1090.0" font-size="22.4" text-anchor="end" xml:space="preserve">0.01</text>
<text x="915.5" y="1086.3000000000002" font-size="22.4" text-anchor="end" xml:space="preserve">degC</text>
<text x="946" y="1154.7" font-size="19.8" text-anchor="start" xml:space="preserve">Min =</text>
<text x="1051" y="1154.7" font-size="19.8" text-anchor="end" xml:space="preserve">-0.26</text>
<text x="1057" y="1154.7" font-size="19.8" text-anchor="start" xml:space="preserve">Max =</text>
<text x="1165.5" y="1154.7" font-size="19.8" text-anchor="end" xml:space="preserve">0.13</text>
<rect x="1018.5" y="1188.30" width="33.3" height="16.69" fill="#67001f" stroke="#000" stroke-width="1"/>
<rect x="1018.5" y="1204.99" width="33.3" height="16.69" fill="#8e0d25" stroke="#000" stroke-width="1"/>
<rect x="1018.5" y="1221.69" width="33.3" height="16.69" fill="#b2202f" stroke="#000" stroke-width="1"/>
<rect x="1018.5" y="1238.38" width="33.3" height="16.69" fill="#c94741" stroke="#000" stroke-width="1"/>
<rect x="1018.5" y="1255.08" width="33.3" height="16.69" fill="#dd6f59" stroke="#000" stroke-width="1"/>
<rect x="1018.5" y="1271.77" width="33.3" height="16.69" fill="#ef9b7a" stroke="#000" stroke-width="1"/>
<rect x="1018.5" y="1288.47" width="33.3" height="16.69" fill="#f7b799" stroke="#000" stroke-width="1"/>
<rect x="1018.5" y="1305.16" width="33.3" height="16.69" fill="#fbd5bf" stroke="#000" stroke-width="1"/>
<rect x="1018.5" y="1321.86" width="33.3" height="16.69" fill="#fde9df" stroke="#000" stroke-width="1"/>
<rect x="1018.5" y="1338.55" width="33.3" height="16.69" fill="#ffffff" stroke="#000" stroke-width="1"/>
<rect x="1018.5" y="1355.25" width="33.3" height="16.69" fill="#e4eff6" stroke="#000" stroke-width="1"/>
<rect x="1018.5" y="1371.94" width="33.3" height="16.69" fill="#cde3ef" stroke="#000" stroke-width="1"/>
<rect x="1018.5" y="1388.64" width="33.3" height="16.69" fill="#a7d0e4" stroke="#000" stroke-width="1"/>
<rect x="1018.5" y="1405.33" width="33.3" height="16.69" fill="#84bcd9" stroke="#000" stroke-width="1"/>
<rect x="1018.5" y="1422.03" width="33.3" height="16.69" fill="#58a0ca" stroke="#000" stroke-width="1"/>
<rect x="1018.5" y="1438.72" width="33.3" height="16.69" fill="#3a85bd" stroke="#000" stroke-width="1"/>
<rect x="1018.5" y="1455.42" width="33.3" height="16.69" fill="#246aae" stroke="#000" stroke-width="1"/>
<rect x="1018.5" y="1472.11" width="33.3" height="16.69" fill="#134c89" stroke="#000" stroke-width="1"/>
<rect x="1018.5" y="1488.81" width="33.3" height="16.69" fill="#0a3061" stroke="#000" stroke-width="1"/>
<text x="1079.4" y="1211.0" font-size="16.7" text-anchor="middle" xml:space="preserve">2.7</text>
<text x="1079.4" y="1227.7" font-size="16.7" text-anchor="middle" xml:space="preserve">2.4</text>
<text x="1079.4" y="1244.4" font-size="16.7" text-anchor="middle" xml:space="preserve">2.1</text>
<text x="1079.4" y="1261.1" font-size="16.7" text-anchor="middle" xml:space="preserve">1.8</text>
<text x="1079.4" y="1277.8" font-size="16.7" text-anchor="middle" xml:space="preserve">1.5</text>
<text x="1079.4" y="1294.4" font-size="16.7" text-anchor="middle" xml:space="preserve">1.2</text>
<text x="1079.4" y="1311.1" font-size="16.7" text-anchor="middle" xml:space="preserve">0.9</text>
<text x="1079.4" y="1327.8" font-size="16.7" text-anchor="middle" xml:space="preserve">0.6</text>
<text x="1079.4" y="1344.5" font-size="16.7" text-anchor="middle" xml:space="preserve">0.3</text>
<text x="1079.4" y="1361.2" font-size="16.7" text-anchor="middle" xml:space="preserve">-0.3</text>
<text x="1079.4" y="1377.9" font-size="16.7" text-anchor="middle" xml:space="preserve">-0.6</text>
<text x="1079.4" y="1394.6" font-size="16.7" text-anchor="middle" xml:space="preserve">-0.9</text>
<text x="1079.4" y="1411.3" font-size="16.7" text-anchor="middle" xml:space="preserve">-1.2</text>
<text x="1079.4" y="1428.0" font-size="16.7" text-anchor="middle" xml:space="preserve">-1.5</text>
<text x="1079.4" y="1444.7" font-size="16.7" text-anchor="middle" xml:space="preserve">-1.8</text>
<text x="1079.4" y="1461.4" font-size="16.7" text-anchor="middle" xml:space="preserve">-2.1</text>
<text x="1079.4" y="1478.1" font-size="16.7" text-anchor="middle" xml:space="preserve">-2.4</text>
<text x="1079.4" y="1494.8" font-size="16.7" text-anchor="middle" xml:space="preserve">-2.7</text>
</g>
</svg></body></html>
